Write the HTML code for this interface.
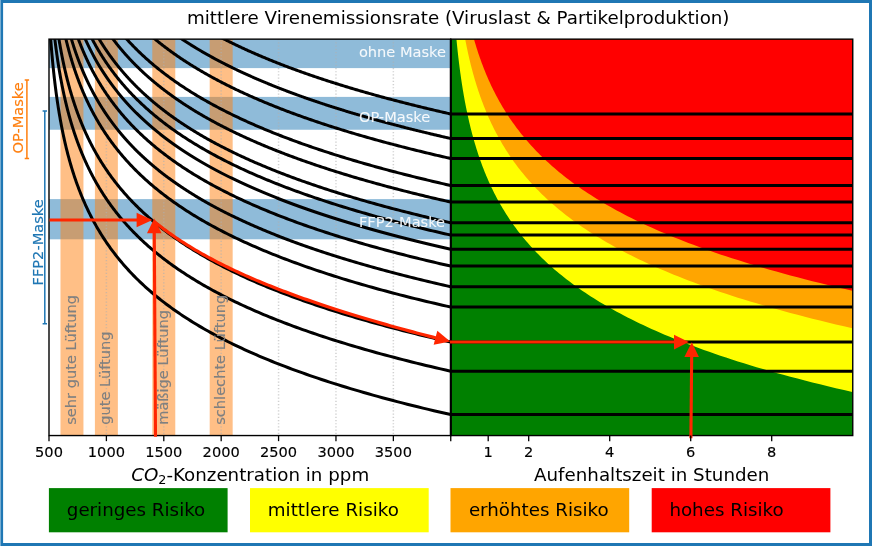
<!DOCTYPE html>
<html lang="de"><head><meta charset="utf-8"><title>Infektionsrisiko</title>
<style>html,body{margin:0;padding:0;background:#fff}svg{display:block}</style></head>
<body>
<svg width="872" height="546" viewBox="0 0 872 546" font-family="'DejaVu Sans', 'Liberation Sans', sans-serif">
<defs>
<clipPath id="cl"><rect x="49.0" y="39.15" width="401.75" height="396.40000000000003"/></clipPath>
<clipPath id="cr"><rect x="450.75" y="39.15" width="402.0" height="396.40000000000003"/></clipPath>
</defs>
<rect x="0" y="0" width="872" height="546" fill="#fff"/>
<g clip-path="url(#cl)">
<rect x="49.0" y="30" width="401.75" height="38.099999999999994" fill="#1f77b4" fill-opacity="0.5"/>
<rect x="49.0" y="96.9" width="401.75" height="32.849999999999994" fill="#1f77b4" fill-opacity="0.5"/>
<rect x="49.0" y="199.1" width="401.75" height="40.20000000000002" fill="#1f77b4" fill-opacity="0.5"/>
<rect x="60.48" y="39.15" width="22.96" height="396.40000000000003" fill="#ff7f0e" fill-opacity="0.5"/>
<rect x="94.91" y="39.15" width="22.96" height="396.40000000000003" fill="#ff7f0e" fill-opacity="0.5"/>
<rect x="152.31" y="39.15" width="22.96" height="396.40000000000003" fill="#ff7f0e" fill-opacity="0.5"/>
<rect x="209.70" y="39.15" width="22.96" height="396.40000000000003" fill="#ff7f0e" fill-opacity="0.5"/>
<line x1="106.39" y1="39.15" x2="106.39" y2="435.55" stroke="#b0b0b0" stroke-opacity="0.6" stroke-width="1.5" stroke-dasharray="1.2 2"/>
<line x1="163.79" y1="39.15" x2="163.79" y2="435.55" stroke="#b0b0b0" stroke-opacity="0.6" stroke-width="1.5" stroke-dasharray="1.2 2"/>
<line x1="221.18" y1="39.15" x2="221.18" y2="435.55" stroke="#b0b0b0" stroke-opacity="0.6" stroke-width="1.5" stroke-dasharray="1.2 2"/>
<line x1="278.57" y1="39.15" x2="278.57" y2="435.55" stroke="#b0b0b0" stroke-opacity="0.6" stroke-width="1.5" stroke-dasharray="1.2 2"/>
<line x1="335.96" y1="39.15" x2="335.96" y2="435.55" stroke="#b0b0b0" stroke-opacity="0.6" stroke-width="1.5" stroke-dasharray="1.2 2"/>
<line x1="393.36" y1="39.15" x2="393.36" y2="435.55" stroke="#b0b0b0" stroke-opacity="0.6" stroke-width="1.5" stroke-dasharray="1.2 2"/>
<path d="M197.07 24.15 L197.57 24.45 L198.07 24.75 L198.57 25.05 L199.08 25.35 L199.58 25.65 L200.09 25.95 L200.60 26.25 L201.11 26.55 L201.63 26.85 L202.14 27.15 L202.66 27.44 L203.17 27.74 L203.69 28.04 L204.22 28.34 L204.74 28.64 L205.26 28.94 L205.79 29.24 L206.32 29.54 L206.85 29.84 L207.38 30.14 L207.91 30.44 L208.45 30.74 L208.98 31.04 L209.52 31.34 L210.06 31.64 L210.60 31.94 L211.15 32.24 L211.69 32.54 L212.24 32.84 L212.79 33.14 L213.34 33.43 L213.89 33.73 L214.45 34.03 L215.01 34.33 L215.56 34.63 L216.12 34.93 L216.68 35.23 L217.25 35.53 L217.81 35.83 L218.38 36.13 L218.95 36.43 L219.52 36.73 L220.09 37.03 L220.67 37.33 L221.25 37.63 L221.82 37.93 L222.40 38.23 L222.99 38.53 L223.57 38.83 L224.16 39.13 L224.75 39.42 L225.33 39.72 L225.93 40.02 L226.52 40.32 L227.12 40.62 L227.71 40.92 L228.31 41.22 L228.91 41.52 L229.52 41.82 L230.12 42.12 L230.73 42.42 L231.34 42.72 L231.95 43.02 L232.57 43.32 L233.18 43.62 L233.80 43.92 L234.42 44.22 L235.04 44.52 L235.66 44.82 L236.29 45.11 L236.92 45.41 L237.55 45.71 L238.18 46.01 L238.81 46.31 L239.45 46.61 L240.08 46.91 L240.72 47.21 L241.37 47.51 L242.01 47.81 L242.66 48.11 L243.30 48.41 L243.96 48.71 L244.61 49.01 L245.26 49.31 L245.92 49.61 L246.58 49.91 L247.24 50.21 L247.90 50.51 L248.57 50.81 L249.24 51.11 L249.91 51.40 L250.58 51.70 L251.25 52.00 L251.93 52.30 L252.61 52.60 L253.29 52.90 L253.97 53.20 L254.66 53.50 L255.34 53.80 L256.03 54.10 L256.72 54.40 L257.42 54.70 L258.11 55.00 L258.81 55.30 L259.51 55.60 L260.22 55.90 L260.92 56.20 L261.63 56.50 L262.34 56.80 L263.05 57.09 L263.77 57.39 L264.49 57.69 L265.21 57.99 L265.93 58.29 L266.65 58.59 L267.38 58.89 L268.11 59.19 L268.84 59.49 L269.57 59.79 L270.31 60.09 L271.05 60.39 L271.79 60.69 L272.53 60.99 L273.28 61.29 L274.02 61.59 L274.78 61.89 L275.53 62.19 L276.28 62.49 L277.04 62.79 L277.80 63.09 L278.56 63.38 L279.33 63.68 L280.10 63.98 L280.87 64.28 L281.64 64.58 L282.42 64.88 L283.19 65.18 L283.98 65.48 L284.76 65.78 L285.54 66.08 L286.33 66.38 L287.12 66.68 L287.92 66.98 L288.71 67.28 L289.51 67.58 L290.31 67.88 L291.12 68.18 L291.92 68.48 L292.73 68.78 L293.54 69.08 L294.36 69.37 L295.17 69.67 L295.99 69.97 L296.81 70.27 L297.64 70.57 L298.47 70.87 L299.30 71.17 L300.13 71.47 L300.97 71.77 L301.80 72.07 L302.65 72.37 L303.49 72.67 L304.34 72.97 L305.19 73.27 L306.04 73.57 L306.89 73.87 L307.75 74.17 L308.61 74.47 L309.47 74.77 L310.34 75.06 L311.21 75.36 L312.08 75.66 L312.96 75.96 L313.83 76.26 L314.71 76.56 L315.60 76.86 L316.48 77.16 L317.37 77.46 L318.27 77.76 L319.16 78.06 L320.06 78.36 L320.96 78.66 L321.86 78.96 L322.77 79.26 L323.68 79.56 L324.59 79.86 L325.51 80.16 L326.42 80.46 L327.35 80.76 L328.27 81.06 L329.20 81.35 L330.13 81.65 L331.06 81.95 L332.00 82.25 L332.94 82.55 L333.88 82.85 L334.83 83.15 L335.78 83.45 L336.73 83.75 L337.68 84.05 L338.64 84.35 L339.60 84.65 L340.57 84.95 L341.53 85.25 L342.50 85.55 L343.48 85.85 L344.46 86.15 L345.44 86.45 L346.42 86.75 L347.41 87.04 L348.40 87.34 L349.39 87.64 L350.39 87.94 L351.38 88.24 L352.39 88.54 L353.39 88.84 L354.40 89.14 L355.42 89.44 L356.43 89.74 L357.45 90.04 L358.47 90.34 L359.50 90.64 L360.53 90.94 L361.56 91.24 L362.60 91.54 L363.64 91.84 L364.68 92.14 L365.73 92.44 L366.78 92.74 L367.83 93.04 L368.89 93.33 L369.94 93.63 L371.01 93.93 L372.08 94.23 L373.15 94.53 L374.22 94.83 L375.30 95.13 L376.38 95.43 L377.46 95.73 L378.55 96.03 L379.64 96.33 L380.74 96.63 L381.83 96.93 L382.94 97.23 L384.04 97.53 L385.15 97.83 L386.26 98.13 L387.38 98.43 L388.50 98.73 L389.63 99.03 L390.75 99.32 L391.88 99.62 L393.02 99.92 L394.16 100.22 L395.30 100.52 L396.45 100.82 L397.60 101.12 L398.75 101.42 L399.91 101.72 L401.07 102.02 L402.23 102.32 L403.40 102.62 L404.57 102.92 L405.75 103.22 L406.93 103.52 L408.11 103.82 L409.30 104.12 L410.49 104.42 L411.69 104.72 L412.89 105.02 L414.09 105.31 L415.30 105.61 L416.51 105.91 L417.73 106.21 L418.94 106.51 L420.17 106.81 L421.39 107.11 L422.63 107.41 L423.86 107.71 L425.10 108.01 L426.34 108.31 L427.59 108.61 L428.84 108.91 L430.10 109.21 L431.36 109.51 L432.62 109.81 L433.89 110.11 L435.16 110.41 L436.44 110.71 L437.72 111.00 L439.00 111.30 L440.29 111.60 L441.58 111.90 L442.88 112.20 L444.18 112.50 L445.49 112.80 L446.80 113.10 L448.11 113.40 L449.43 113.70 L450.75 114.00" fill="none" stroke="#000" stroke-width="3.0"/>
<path d="M161.24 24.15 L161.73 24.53 L162.22 24.91 L162.71 25.29 L163.21 25.67 L163.70 26.06 L164.20 26.44 L164.70 26.82 L165.20 27.20 L165.71 27.58 L166.21 27.96 L166.72 28.34 L167.23 28.72 L167.74 29.11 L168.26 29.49 L168.77 29.87 L169.29 30.25 L169.81 30.63 L170.34 31.01 L170.86 31.39 L171.39 31.77 L171.92 32.15 L172.45 32.54 L172.98 32.92 L173.52 33.30 L174.06 33.68 L174.60 34.06 L175.14 34.44 L175.69 34.82 L176.23 35.20 L176.78 35.59 L177.34 35.97 L177.89 36.35 L178.45 36.73 L179.01 37.11 L179.57 37.49 L180.13 37.87 L180.70 38.25 L181.26 38.63 L181.83 39.02 L182.41 39.40 L182.98 39.78 L183.56 40.16 L184.14 40.54 L184.72 40.92 L185.31 41.30 L185.90 41.68 L186.49 42.06 L187.08 42.45 L187.67 42.83 L188.27 43.21 L188.87 43.59 L189.47 43.97 L190.08 44.35 L190.68 44.73 L191.29 45.11 L191.90 45.50 L192.52 45.88 L193.14 46.26 L193.76 46.64 L194.38 47.02 L195.00 47.40 L195.63 47.78 L196.26 48.16 L196.89 48.54 L197.53 48.93 L198.17 49.31 L198.81 49.69 L199.45 50.07 L200.10 50.45 L200.75 50.83 L201.40 51.21 L202.05 51.59 L202.71 51.98 L203.37 52.36 L204.03 52.74 L204.70 53.12 L205.36 53.50 L206.04 53.88 L206.71 54.26 L207.38 54.64 L208.06 55.02 L208.75 55.41 L209.43 55.79 L210.12 56.17 L210.81 56.55 L211.50 56.93 L212.20 57.31 L212.90 57.69 L213.60 58.07 L214.30 58.46 L215.01 58.84 L215.72 59.22 L216.44 59.60 L217.15 59.98 L217.87 60.36 L218.59 60.74 L219.32 61.12 L220.05 61.50 L220.78 61.89 L221.51 62.27 L222.25 62.65 L222.99 63.03 L223.74 63.41 L224.48 63.79 L225.23 64.17 L225.99 64.55 L226.74 64.93 L227.50 65.32 L228.26 65.70 L229.03 66.08 L229.80 66.46 L230.57 66.84 L231.35 67.22 L232.13 67.60 L232.91 67.98 L233.69 68.37 L234.48 68.75 L235.27 69.13 L236.07 69.51 L236.86 69.89 L237.67 70.27 L238.47 70.65 L239.28 71.03 L240.09 71.41 L240.90 71.80 L241.72 72.18 L242.54 72.56 L243.37 72.94 L244.20 73.32 L245.03 73.70 L245.87 74.08 L246.70 74.46 L247.55 74.85 L248.39 75.23 L249.24 75.61 L250.09 75.99 L250.95 76.37 L251.81 76.75 L252.67 77.13 L253.54 77.51 L254.41 77.89 L255.29 78.28 L256.16 78.66 L257.04 79.04 L257.93 79.42 L258.82 79.80 L259.71 80.18 L260.61 80.56 L261.51 80.94 L262.41 81.32 L263.32 81.71 L264.23 82.09 L265.15 82.47 L266.06 82.85 L266.99 83.23 L267.91 83.61 L268.84 83.99 L269.78 84.37 L270.72 84.76 L271.66 85.14 L272.60 85.52 L273.55 85.90 L274.51 86.28 L275.46 86.66 L276.43 87.04 L277.39 87.42 L278.36 87.80 L279.34 88.19 L280.31 88.57 L281.29 88.95 L282.28 89.33 L283.27 89.71 L284.26 90.09 L285.26 90.47 L286.27 90.85 L287.27 91.24 L288.28 91.62 L289.30 92.00 L290.32 92.38 L291.34 92.76 L292.37 93.14 L293.40 93.52 L294.44 93.90 L295.48 94.28 L296.52 94.67 L297.57 95.05 L298.62 95.43 L299.68 95.81 L300.74 96.19 L301.81 96.57 L302.88 96.95 L303.96 97.33 L305.04 97.72 L306.12 98.10 L307.21 98.48 L308.30 98.86 L309.40 99.24 L310.50 99.62 L311.61 100.00 L312.72 100.38 L313.84 100.76 L314.96 101.15 L316.09 101.53 L317.22 101.91 L318.35 102.29 L319.49 102.67 L320.63 103.05 L321.78 103.43 L322.94 103.81 L324.10 104.20 L325.26 104.58 L326.43 104.96 L327.60 105.34 L328.78 105.72 L329.96 106.10 L331.15 106.48 L332.34 106.86 L333.54 107.24 L334.74 107.63 L335.95 108.01 L337.16 108.39 L338.38 108.77 L339.61 109.15 L340.83 109.53 L342.07 109.91 L343.30 110.29 L344.55 110.67 L345.80 111.06 L347.05 111.44 L348.31 111.82 L349.57 112.20 L350.84 112.58 L352.12 112.96 L353.40 113.34 L354.68 113.72 L355.97 114.11 L357.27 114.49 L358.57 114.87 L359.88 115.25 L361.19 115.63 L362.51 116.01 L363.83 116.39 L365.16 116.77 L366.49 117.15 L367.83 117.54 L369.18 117.92 L370.53 118.30 L371.88 118.68 L373.25 119.06 L374.61 119.44 L375.99 119.82 L377.37 120.20 L378.75 120.59 L380.14 120.97 L381.54 121.35 L382.94 121.73 L384.35 122.11 L385.76 122.49 L387.18 122.87 L388.61 123.25 L390.04 123.63 L391.47 124.02 L392.92 124.40 L394.37 124.78 L395.82 125.16 L397.28 125.54 L398.75 125.92 L400.22 126.30 L401.70 126.68 L403.19 127.07 L404.68 127.45 L406.18 127.83 L407.68 128.21 L409.20 128.59 L410.71 128.97 L412.24 129.35 L413.76 129.73 L415.30 130.11 L416.84 130.50 L418.39 130.88 L419.95 131.26 L421.51 131.64 L423.08 132.02 L424.65 132.40 L426.23 132.78 L427.82 133.16 L429.41 133.54 L431.01 133.93 L432.62 134.31 L434.24 134.69 L435.86 135.07 L437.48 135.45 L439.12 135.83 L440.76 136.21 L442.41 136.59 L444.06 136.98 L445.72 137.36 L447.39 137.74 L449.07 138.12 L450.75 138.50" fill="none" stroke="#000" stroke-width="3.0"/>
<path d="M138.30 24.15 L138.77 24.60 L139.23 25.05 L139.69 25.49 L140.16 25.94 L140.63 26.39 L141.10 26.84 L141.58 27.28 L142.06 27.73 L142.54 28.18 L143.02 28.63 L143.50 29.08 L143.99 29.52 L144.48 29.97 L144.97 30.42 L145.46 30.87 L145.96 31.32 L146.45 31.76 L146.96 32.21 L147.46 32.66 L147.96 33.11 L148.47 33.55 L148.98 34.00 L149.50 34.45 L150.01 34.90 L150.53 35.35 L151.05 35.79 L151.57 36.24 L152.10 36.69 L152.63 37.14 L153.16 37.58 L153.69 38.03 L154.23 38.48 L154.77 38.93 L155.31 39.38 L155.85 39.82 L156.40 40.27 L156.95 40.72 L157.50 41.17 L158.05 41.62 L158.61 42.06 L159.17 42.51 L159.73 42.96 L160.30 43.41 L160.87 43.85 L161.44 44.30 L162.01 44.75 L162.59 45.20 L163.17 45.65 L163.75 46.09 L164.34 46.54 L164.92 46.99 L165.52 47.44 L166.11 47.89 L166.71 48.33 L167.31 48.78 L167.91 49.23 L168.51 49.68 L169.12 50.12 L169.73 50.57 L170.35 51.02 L170.96 51.47 L171.59 51.92 L172.21 52.36 L172.84 52.81 L173.46 53.26 L174.10 53.71 L174.73 54.15 L175.37 54.60 L176.01 55.05 L176.66 55.50 L177.31 55.95 L177.96 56.39 L178.61 56.84 L179.27 57.29 L179.93 57.74 L180.59 58.19 L181.26 58.63 L181.93 59.08 L182.61 59.53 L183.28 59.98 L183.96 60.42 L184.65 60.87 L185.34 61.32 L186.03 61.77 L186.72 62.22 L187.42 62.66 L188.12 63.11 L188.82 63.56 L189.53 64.01 L190.24 64.45 L190.95 64.90 L191.67 65.35 L192.39 65.80 L193.12 66.25 L193.85 66.69 L194.58 67.14 L195.31 67.59 L196.05 68.04 L196.80 68.49 L197.54 68.93 L198.29 69.38 L199.05 69.83 L199.80 70.28 L200.56 70.72 L201.33 71.17 L202.10 71.62 L202.87 72.07 L203.65 72.52 L204.43 72.96 L205.21 73.41 L206.00 73.86 L206.79 74.31 L207.58 74.76 L208.38 75.20 L209.19 75.65 L209.99 76.10 L210.80 76.55 L211.62 76.99 L212.44 77.44 L213.26 77.89 L214.09 78.34 L214.92 78.79 L215.75 79.23 L216.59 79.68 L217.43 80.13 L218.28 80.58 L219.13 81.02 L219.99 81.47 L220.85 81.92 L221.71 82.37 L222.58 82.82 L223.45 83.26 L224.33 83.71 L225.21 84.16 L226.09 84.61 L226.98 85.06 L227.88 85.50 L228.77 85.95 L229.68 86.40 L230.58 86.85 L231.49 87.29 L232.41 87.74 L233.33 88.19 L234.26 88.64 L235.18 89.09 L236.12 89.53 L237.06 89.98 L238.00 90.43 L238.95 90.88 L239.90 91.32 L240.86 91.77 L241.82 92.22 L242.78 92.67 L243.75 93.12 L244.73 93.56 L245.71 94.01 L246.69 94.46 L247.68 94.91 L248.68 95.36 L249.68 95.80 L250.68 96.25 L251.69 96.70 L252.71 97.15 L253.73 97.59 L254.75 98.04 L255.78 98.49 L256.81 98.94 L257.85 99.39 L258.90 99.83 L259.95 100.28 L261.00 100.73 L262.06 101.18 L263.13 101.63 L264.20 102.07 L265.27 102.52 L266.35 102.97 L267.44 103.42 L268.53 103.86 L269.63 104.31 L270.73 104.76 L271.83 105.21 L272.95 105.66 L274.06 106.10 L275.19 106.55 L276.32 107.00 L277.45 107.45 L278.59 107.89 L279.74 108.34 L280.89 108.79 L282.04 109.24 L283.21 109.69 L284.37 110.13 L285.55 110.58 L286.73 111.03 L287.91 111.48 L289.10 111.93 L290.30 112.37 L291.50 112.82 L292.71 113.27 L293.93 113.72 L295.15 114.16 L296.37 114.61 L297.61 115.06 L298.84 115.51 L300.09 115.96 L301.34 116.40 L302.60 116.85 L303.86 117.30 L305.13 117.75 L306.40 118.19 L307.68 118.64 L308.97 119.09 L310.26 119.54 L311.56 119.99 L312.87 120.43 L314.18 120.88 L315.50 121.33 L316.83 121.78 L318.16 122.23 L319.50 122.67 L320.84 123.12 L322.20 123.57 L323.55 124.02 L324.92 124.46 L326.29 124.91 L327.67 125.36 L329.05 125.81 L330.45 126.26 L331.84 126.70 L333.25 127.15 L334.66 127.60 L336.08 128.05 L337.51 128.50 L338.94 128.94 L340.38 129.39 L341.83 129.84 L343.28 130.29 L344.74 130.73 L346.21 131.18 L347.69 131.63 L349.17 132.08 L350.66 132.53 L352.16 132.97 L353.66 133.42 L355.17 133.87 L356.69 134.32 L358.22 134.76 L359.75 135.21 L361.29 135.66 L362.84 136.11 L364.40 136.56 L365.96 137.00 L367.54 137.45 L369.12 137.90 L370.70 138.35 L372.30 138.80 L373.90 139.24 L375.51 139.69 L377.13 140.14 L378.76 140.59 L380.39 141.03 L382.03 141.48 L383.68 141.93 L385.34 142.38 L387.01 142.83 L388.68 143.27 L390.36 143.72 L392.06 144.17 L393.75 144.62 L395.46 145.06 L397.18 145.51 L398.90 145.96 L400.63 146.41 L402.38 146.86 L404.13 147.30 L405.88 147.75 L407.65 148.20 L409.43 148.65 L411.21 149.10 L413.00 149.54 L414.80 149.99 L416.61 150.44 L418.43 150.89 L420.26 151.33 L422.10 151.78 L423.94 152.23 L425.80 152.68 L427.66 153.13 L429.53 153.57 L431.42 154.02 L433.31 154.47 L435.21 154.92 L437.12 155.37 L439.04 155.81 L440.97 156.26 L442.90 156.71 L444.85 157.16 L446.81 157.60 L448.77 158.05 L450.75 158.50" fill="none" stroke="#000" stroke-width="3.0"/>
<path d="M114.28 24.15 L114.69 24.69 L115.11 25.23 L115.52 25.76 L115.94 26.30 L116.37 26.84 L116.79 27.38 L117.22 27.91 L117.65 28.45 L118.08 28.99 L118.52 29.53 L118.96 30.07 L119.40 30.60 L119.84 31.14 L120.29 31.68 L120.73 32.22 L121.18 32.76 L121.64 33.29 L122.09 33.83 L122.55 34.37 L123.01 34.91 L123.48 35.44 L123.95 35.98 L124.42 36.52 L124.89 37.06 L125.36 37.60 L125.84 38.13 L126.32 38.67 L126.81 39.21 L127.29 39.75 L127.78 40.28 L128.27 40.82 L128.77 41.36 L129.27 41.90 L129.77 42.44 L130.27 42.97 L130.78 43.51 L131.29 44.05 L131.80 44.59 L132.32 45.13 L132.84 45.66 L133.36 46.20 L133.88 46.74 L134.41 47.28 L134.94 47.81 L135.47 48.35 L136.01 48.89 L136.55 49.43 L137.10 49.97 L137.64 50.50 L138.19 51.04 L138.75 51.58 L139.30 52.12 L139.86 52.66 L140.43 53.19 L140.99 53.73 L141.56 54.27 L142.13 54.81 L142.71 55.34 L143.29 55.88 L143.87 56.42 L144.46 56.96 L145.05 57.50 L145.64 58.03 L146.24 58.57 L146.84 59.11 L147.45 59.65 L148.05 60.18 L148.66 60.72 L149.28 61.26 L149.90 61.80 L150.52 62.34 L151.14 62.87 L151.77 63.41 L152.41 63.95 L153.04 64.49 L153.68 65.03 L154.33 65.56 L154.97 66.10 L155.63 66.64 L156.28 67.18 L156.94 67.71 L157.60 68.25 L158.27 68.79 L158.94 69.33 L159.62 69.87 L160.30 70.40 L160.98 70.94 L161.67 71.48 L162.36 72.02 L163.05 72.55 L163.75 73.09 L164.45 73.63 L165.16 74.17 L165.87 74.71 L166.59 75.24 L167.31 75.78 L168.03 76.32 L168.76 76.86 L169.49 77.40 L170.23 77.93 L170.97 78.47 L171.71 79.01 L172.46 79.55 L173.22 80.08 L173.98 80.62 L174.74 81.16 L175.51 81.70 L176.28 82.24 L177.06 82.77 L177.84 83.31 L178.62 83.85 L179.41 84.39 L180.21 84.93 L181.01 85.46 L181.81 86.00 L182.62 86.54 L183.44 87.08 L184.25 87.61 L185.08 88.15 L185.91 88.69 L186.74 89.23 L187.58 89.77 L188.42 90.30 L189.27 90.84 L190.12 91.38 L190.98 91.92 L191.84 92.45 L192.71 92.99 L193.58 93.53 L194.46 94.07 L195.34 94.61 L196.23 95.14 L197.12 95.68 L198.02 96.22 L198.93 96.76 L199.84 97.30 L200.75 97.83 L201.67 98.37 L202.60 98.91 L203.53 99.45 L204.46 99.98 L205.40 100.52 L206.35 101.06 L207.30 101.60 L208.26 102.14 L209.23 102.67 L210.20 103.21 L211.17 103.75 L212.15 104.29 L213.14 104.82 L214.13 105.36 L215.13 105.90 L216.14 106.44 L217.15 106.98 L218.16 107.51 L219.18 108.05 L220.21 108.59 L221.25 109.13 L222.29 109.67 L223.33 110.20 L224.38 110.74 L225.44 111.28 L226.51 111.82 L227.58 112.35 L228.66 112.89 L229.74 113.43 L230.83 113.97 L231.93 114.51 L233.03 115.04 L234.14 115.58 L235.25 116.12 L236.38 116.66 L237.51 117.20 L238.64 117.73 L239.78 118.27 L240.93 118.81 L242.09 119.35 L243.25 119.88 L244.42 120.42 L245.60 120.96 L246.78 121.50 L247.97 122.04 L249.17 122.57 L250.37 123.11 L251.58 123.65 L252.80 124.19 L254.02 124.72 L255.26 125.26 L256.50 125.80 L257.74 126.34 L259.00 126.88 L260.26 127.41 L261.53 127.95 L262.80 128.49 L264.09 129.03 L265.38 129.57 L266.68 130.10 L267.98 130.64 L269.30 131.18 L270.62 131.72 L271.95 132.25 L273.29 132.79 L274.63 133.33 L275.99 133.87 L277.35 134.41 L278.72 134.94 L280.09 135.48 L281.48 136.02 L282.87 136.56 L284.27 137.09 L285.68 137.63 L287.10 138.17 L288.53 138.71 L289.96 139.25 L291.40 139.78 L292.86 140.32 L294.32 140.86 L295.78 141.40 L297.26 141.94 L298.75 142.47 L300.24 143.01 L301.75 143.55 L303.26 144.09 L304.78 144.62 L306.31 145.16 L307.85 145.70 L309.40 146.24 L310.95 146.78 L312.52 147.31 L314.09 147.85 L315.68 148.39 L317.27 148.93 L318.88 149.47 L320.49 150.00 L322.11 150.54 L323.74 151.08 L325.38 151.62 L327.03 152.15 L328.69 152.69 L330.36 153.23 L332.04 153.77 L333.73 154.31 L335.43 154.84 L337.14 155.38 L338.86 155.92 L340.59 156.46 L342.33 156.99 L344.08 157.53 L345.84 158.07 L347.61 158.61 L349.40 159.15 L351.19 159.68 L352.99 160.22 L354.80 160.76 L356.63 161.30 L358.46 161.84 L360.30 162.37 L362.16 162.91 L364.03 163.45 L365.90 163.99 L367.79 164.52 L369.69 165.06 L371.60 165.60 L373.52 166.14 L375.46 166.68 L377.40 167.21 L379.36 167.75 L381.32 168.29 L383.30 168.83 L385.29 169.37 L387.29 169.90 L389.31 170.44 L391.33 170.98 L393.37 171.52 L395.42 172.05 L397.48 172.59 L399.56 173.13 L401.64 173.67 L403.74 174.21 L405.85 174.74 L407.97 175.28 L410.11 175.82 L412.25 176.36 L414.41 176.89 L416.59 177.43 L418.77 177.97 L420.97 178.51 L423.18 179.05 L425.41 179.58 L427.64 180.12 L429.89 180.66 L432.16 181.20 L434.43 181.74 L436.72 182.27 L439.03 182.81 L441.35 183.35 L443.68 183.89 L446.02 184.42 L448.38 184.96 L450.75 185.50" fill="none" stroke="#000" stroke-width="3.0"/>
<path d="M102.65 24.15 L103.03 24.74 L103.41 25.34 L103.80 25.93 L104.18 26.52 L104.57 27.12 L104.97 27.71 L105.36 28.30 L105.76 28.90 L106.16 29.49 L106.56 30.08 L106.97 30.67 L107.38 31.27 L107.79 31.86 L108.20 32.45 L108.62 33.05 L109.04 33.64 L109.46 34.23 L109.89 34.83 L110.31 35.42 L110.74 36.01 L111.18 36.61 L111.61 37.20 L112.05 37.79 L112.49 38.39 L112.93 38.98 L113.38 39.57 L113.83 40.17 L114.28 40.76 L114.74 41.35 L115.20 41.94 L115.66 42.54 L116.12 43.13 L116.59 43.72 L117.06 44.32 L117.54 44.91 L118.01 45.50 L118.49 46.10 L118.98 46.69 L119.46 47.28 L119.95 47.88 L120.44 48.47 L120.94 49.06 L121.44 49.66 L121.94 50.25 L122.44 50.84 L122.95 51.44 L123.47 52.03 L123.98 52.62 L124.50 53.22 L125.02 53.81 L125.55 54.40 L126.07 54.99 L126.61 55.59 L127.14 56.18 L127.68 56.77 L128.22 57.37 L128.77 57.96 L129.32 58.55 L129.87 59.15 L130.43 59.74 L130.99 60.33 L131.55 60.93 L132.12 61.52 L132.69 62.11 L133.26 62.71 L133.84 63.30 L134.42 63.89 L135.01 64.49 L135.60 65.08 L136.19 65.67 L136.79 66.26 L137.39 66.86 L138.00 67.45 L138.61 68.04 L139.22 68.64 L139.84 69.23 L140.46 69.82 L141.08 70.42 L141.71 71.01 L142.35 71.60 L142.98 72.20 L143.62 72.79 L144.27 73.38 L144.92 73.98 L145.57 74.57 L146.23 75.16 L146.89 75.76 L147.56 76.35 L148.23 76.94 L148.91 77.53 L149.59 78.13 L150.27 78.72 L150.96 79.31 L151.65 79.91 L152.35 80.50 L153.05 81.09 L153.76 81.69 L154.47 82.28 L155.18 82.87 L155.90 83.47 L156.63 84.06 L157.36 84.65 L158.09 85.25 L158.83 85.84 L159.58 86.43 L160.32 87.03 L161.08 87.62 L161.84 88.21 L162.60 88.81 L163.37 89.40 L164.14 89.99 L164.92 90.58 L165.70 91.18 L166.49 91.77 L167.28 92.36 L168.08 92.96 L168.89 93.55 L169.69 94.14 L170.51 94.74 L171.33 95.33 L172.15 95.92 L172.98 96.52 L173.82 97.11 L174.66 97.70 L175.50 98.30 L176.36 98.89 L177.21 99.48 L178.08 100.08 L178.94 100.67 L179.82 101.26 L180.70 101.85 L181.58 102.45 L182.47 103.04 L183.37 103.63 L184.27 104.23 L185.18 104.82 L186.10 105.41 L187.02 106.01 L187.94 106.60 L188.87 107.19 L189.81 107.79 L190.76 108.38 L191.71 108.97 L192.66 109.57 L193.63 110.16 L194.60 110.75 L195.57 111.35 L196.55 111.94 L197.54 112.53 L198.53 113.13 L199.53 113.72 L200.54 114.31 L201.56 114.90 L202.58 115.50 L203.60 116.09 L204.64 116.68 L205.68 117.28 L206.72 117.87 L207.78 118.46 L208.84 119.06 L209.90 119.65 L210.98 120.24 L212.06 120.84 L213.15 121.43 L214.24 122.02 L215.35 122.62 L216.45 123.21 L217.57 123.80 L218.69 124.40 L219.83 124.99 L220.96 125.58 L222.11 126.17 L223.26 126.77 L224.42 127.36 L225.59 127.95 L226.77 128.55 L227.95 129.14 L229.14 129.73 L230.34 130.33 L231.55 130.92 L232.76 131.51 L233.98 132.11 L235.21 132.70 L236.45 133.29 L237.70 133.89 L238.95 134.48 L240.21 135.07 L241.48 135.67 L242.76 136.26 L244.05 136.85 L245.34 137.44 L246.65 138.04 L247.96 138.63 L249.28 139.22 L250.61 139.82 L251.95 140.41 L253.29 141.00 L254.65 141.60 L256.01 142.19 L257.38 142.78 L258.76 143.38 L260.15 143.97 L261.55 144.56 L262.96 145.16 L264.38 145.75 L265.80 146.34 L267.24 146.94 L268.69 147.53 L270.14 148.12 L271.60 148.71 L273.08 149.31 L274.56 149.90 L276.05 150.49 L277.55 151.09 L279.07 151.68 L280.59 152.27 L282.12 152.87 L283.66 153.46 L285.21 154.05 L286.77 154.65 L288.34 155.24 L289.93 155.83 L291.52 156.43 L293.12 157.02 L294.73 157.61 L296.36 158.21 L297.99 158.80 L299.63 159.39 L301.29 159.99 L302.95 160.58 L304.63 161.17 L306.32 161.76 L308.01 162.36 L309.72 162.95 L311.44 163.54 L313.17 164.14 L314.91 164.73 L316.67 165.32 L318.43 165.92 L320.21 166.51 L322.00 167.10 L323.80 167.70 L325.61 168.29 L327.43 168.88 L329.26 169.48 L331.11 170.07 L332.97 170.66 L334.84 171.26 L336.72 171.85 L338.62 172.44 L340.52 173.03 L342.44 173.63 L344.37 174.22 L346.32 174.81 L348.27 175.41 L350.24 176.00 L352.22 176.59 L354.22 177.19 L356.23 177.78 L358.25 178.37 L360.28 178.97 L362.33 179.56 L364.39 180.15 L366.46 180.75 L368.55 181.34 L370.65 181.93 L372.76 182.53 L374.89 183.12 L377.03 183.71 L379.19 184.31 L381.36 184.90 L383.54 185.49 L385.74 186.08 L387.95 186.68 L390.17 187.27 L392.41 187.86 L394.67 188.46 L396.94 189.05 L399.22 189.64 L401.52 190.24 L403.83 190.83 L406.16 191.42 L408.51 192.02 L410.87 192.61 L413.24 193.20 L415.63 193.80 L418.03 194.39 L420.45 194.98 L422.89 195.58 L425.34 196.17 L427.81 196.76 L430.29 197.35 L432.79 197.95 L435.31 198.54 L437.84 199.13 L440.39 199.73 L442.95 200.32 L445.54 200.91 L448.13 201.51 L450.75 202.10" fill="none" stroke="#000" stroke-width="3.0"/>
<path d="M90.82 24.15 L91.16 24.81 L91.50 25.47 L91.85 26.14 L92.20 26.80 L92.54 27.46 L92.90 28.12 L93.25 28.78 L93.61 29.45 L93.97 30.11 L94.33 30.77 L94.69 31.43 L95.06 32.09 L95.43 32.76 L95.80 33.42 L96.18 34.08 L96.56 34.74 L96.94 35.40 L97.32 36.07 L97.71 36.73 L98.10 37.39 L98.49 38.05 L98.88 38.71 L99.28 39.38 L99.68 40.04 L100.08 40.70 L100.49 41.36 L100.90 42.02 L101.31 42.69 L101.73 43.35 L102.14 44.01 L102.57 44.67 L102.99 45.33 L103.42 46.00 L103.85 46.66 L104.28 47.32 L104.72 47.98 L105.16 48.64 L105.60 49.31 L106.05 49.97 L106.50 50.63 L106.95 51.29 L107.40 51.95 L107.86 52.62 L108.33 53.28 L108.79 53.94 L109.26 54.60 L109.73 55.26 L110.21 55.93 L110.69 56.59 L111.17 57.25 L111.66 57.91 L112.15 58.57 L112.64 59.24 L113.14 59.90 L113.64 60.56 L114.14 61.22 L114.65 61.88 L115.16 62.55 L115.68 63.21 L116.19 63.87 L116.72 64.53 L117.24 65.19 L117.77 65.86 L118.31 66.52 L118.85 67.18 L119.39 67.84 L119.93 68.50 L120.48 69.17 L121.04 69.83 L121.59 70.49 L122.15 71.15 L122.72 71.81 L123.29 72.48 L123.86 73.14 L124.44 73.80 L125.02 74.46 L125.61 75.12 L126.20 75.79 L126.80 76.45 L127.39 77.11 L128.00 77.77 L128.61 78.43 L129.22 79.10 L129.83 79.76 L130.46 80.42 L131.08 81.08 L131.71 81.74 L132.35 82.41 L132.98 83.07 L133.63 83.73 L134.28 84.39 L134.93 85.05 L135.59 85.72 L136.25 86.38 L136.92 87.04 L137.59 87.70 L138.27 88.36 L138.95 89.03 L139.64 89.69 L140.33 90.35 L141.02 91.01 L141.73 91.67 L142.43 92.34 L143.15 93.00 L143.86 93.66 L144.59 94.32 L145.31 94.98 L146.05 95.65 L146.78 96.31 L147.53 96.97 L148.28 97.63 L149.03 98.29 L149.79 98.96 L150.56 99.62 L151.33 100.28 L152.10 100.94 L152.88 101.60 L153.67 102.27 L154.46 102.93 L155.26 103.59 L156.07 104.25 L156.88 104.91 L157.70 105.58 L158.52 106.24 L159.35 106.90 L160.18 107.56 L161.02 108.22 L161.87 108.89 L162.72 109.55 L163.58 110.21 L164.44 110.87 L165.31 111.53 L166.19 112.20 L167.07 112.86 L167.96 113.52 L168.86 114.18 L169.76 114.84 L170.67 115.51 L171.59 116.17 L172.51 116.83 L173.44 117.49 L174.38 118.15 L175.32 118.82 L176.27 119.48 L177.22 120.14 L178.19 120.80 L179.16 121.46 L180.14 122.13 L181.12 122.79 L182.11 123.45 L183.11 124.11 L184.12 124.77 L185.13 125.44 L186.15 126.10 L187.18 126.76 L188.21 127.42 L189.25 128.08 L190.30 128.75 L191.36 129.41 L192.43 130.07 L193.50 130.73 L194.58 131.39 L195.67 132.06 L196.77 132.72 L197.87 133.38 L198.98 134.04 L200.10 134.70 L201.23 135.37 L202.37 136.03 L203.51 136.69 L204.67 137.35 L205.83 138.01 L207.00 138.68 L208.18 139.34 L209.36 140.00 L210.56 140.66 L211.76 141.32 L212.98 141.99 L214.20 142.65 L215.43 143.31 L216.67 143.97 L217.92 144.63 L219.17 145.30 L220.44 145.96 L221.71 146.62 L223.00 147.28 L224.29 147.94 L225.60 148.61 L226.91 149.27 L228.23 149.93 L229.56 150.59 L230.90 151.25 L232.25 151.92 L233.61 152.58 L234.99 153.24 L236.37 153.90 L237.76 154.56 L239.16 155.23 L240.57 155.89 L241.99 156.55 L243.42 157.21 L244.86 157.87 L246.31 158.54 L247.77 159.20 L249.25 159.86 L250.73 160.52 L252.22 161.18 L253.73 161.85 L255.24 162.51 L256.77 163.17 L258.31 163.83 L259.86 164.49 L261.42 165.16 L262.99 165.82 L264.57 166.48 L266.17 167.14 L267.77 167.80 L269.39 168.47 L271.02 169.13 L272.66 169.79 L274.31 170.45 L275.98 171.11 L277.65 171.78 L279.34 172.44 L281.04 173.10 L282.75 173.76 L284.48 174.42 L286.22 175.09 L287.97 175.75 L289.73 176.41 L291.51 177.07 L293.30 177.73 L295.10 178.40 L296.91 179.06 L298.74 179.72 L300.58 180.38 L302.43 181.04 L304.30 181.71 L306.18 182.37 L308.08 183.03 L309.99 183.69 L311.91 184.35 L313.84 185.02 L315.79 185.68 L317.76 186.34 L319.74 187.00 L321.73 187.66 L323.73 188.33 L325.76 188.99 L327.79 189.65 L329.84 190.31 L331.91 190.97 L333.99 191.64 L336.08 192.30 L338.19 192.96 L340.32 193.62 L342.46 194.28 L344.62 194.95 L346.79 195.61 L348.98 196.27 L351.18 196.93 L353.40 197.59 L355.64 198.26 L357.89 198.92 L360.16 199.58 L362.44 200.24 L364.74 200.90 L367.06 201.57 L369.39 202.23 L371.74 202.89 L374.11 203.55 L376.50 204.21 L378.90 204.88 L381.32 205.54 L383.76 206.20 L386.21 206.86 L388.68 207.52 L391.17 208.19 L393.68 208.85 L396.21 209.51 L398.75 210.17 L401.32 210.83 L403.90 211.50 L406.50 212.16 L409.12 212.82 L411.75 213.48 L414.41 214.14 L417.09 214.81 L419.78 215.47 L422.50 216.13 L425.23 216.79 L427.99 217.45 L430.76 218.12 L433.56 218.78 L436.37 219.44 L439.20 220.10 L442.06 220.76 L444.94 221.43 L447.83 222.09 L450.75 222.75" fill="none" stroke="#000" stroke-width="3.0"/>
<path d="M84.92 24.15 L85.24 24.85 L85.55 25.56 L85.87 26.26 L86.20 26.96 L86.52 27.67 L86.85 28.37 L87.18 29.07 L87.51 29.78 L87.85 30.48 L88.18 31.18 L88.52 31.88 L88.87 32.59 L89.21 33.29 L89.56 33.99 L89.91 34.70 L90.27 35.40 L90.62 36.10 L90.98 36.81 L91.34 37.51 L91.71 38.21 L92.07 38.92 L92.44 39.62 L92.82 40.32 L93.19 41.03 L93.57 41.73 L93.95 42.43 L94.34 43.14 L94.73 43.84 L95.12 44.54 L95.51 45.25 L95.91 45.95 L96.31 46.65 L96.71 47.35 L97.11 48.06 L97.52 48.76 L97.93 49.46 L98.35 50.17 L98.77 50.87 L99.19 51.57 L99.61 52.28 L100.04 52.98 L100.47 53.68 L100.91 54.39 L101.35 55.09 L101.79 55.79 L102.23 56.50 L102.68 57.20 L103.13 57.90 L103.59 58.61 L104.04 59.31 L104.51 60.01 L104.97 60.71 L105.44 61.42 L105.91 62.12 L106.39 62.82 L106.87 63.53 L107.35 64.23 L107.84 64.93 L108.33 65.64 L108.83 66.34 L109.32 67.04 L109.83 67.75 L110.33 68.45 L110.84 69.15 L111.36 69.86 L111.88 70.56 L112.40 71.26 L112.92 71.97 L113.45 72.67 L113.99 73.37 L114.53 74.07 L115.07 74.78 L115.62 75.48 L116.17 76.18 L116.72 76.89 L117.28 77.59 L117.84 78.29 L118.41 79.00 L118.98 79.70 L119.56 80.40 L120.14 81.11 L120.73 81.81 L121.32 82.51 L121.91 83.22 L122.51 83.92 L123.11 84.62 L123.72 85.33 L124.34 86.03 L124.95 86.73 L125.58 87.44 L126.20 88.14 L126.83 88.84 L127.47 89.54 L128.11 90.25 L128.76 90.95 L129.41 91.65 L130.07 92.36 L130.73 93.06 L131.40 93.76 L132.07 94.47 L132.74 95.17 L133.43 95.87 L134.11 96.58 L134.81 97.28 L135.50 97.98 L136.21 98.69 L136.92 99.39 L137.63 100.09 L138.35 100.80 L139.08 101.50 L139.81 102.20 L140.54 102.90 L141.28 103.61 L142.03 104.31 L142.79 105.01 L143.55 105.72 L144.31 106.42 L145.08 107.12 L145.86 107.83 L146.64 108.53 L147.43 109.23 L148.22 109.94 L149.03 110.64 L149.83 111.34 L150.65 112.05 L151.47 112.75 L152.29 113.45 L153.12 114.16 L153.96 114.86 L154.81 115.56 L155.66 116.26 L156.52 116.97 L157.38 117.67 L158.25 118.37 L159.13 119.08 L160.01 119.78 L160.91 120.48 L161.80 121.19 L162.71 121.89 L163.62 122.59 L164.54 123.30 L165.47 124.00 L166.40 124.70 L167.34 125.41 L168.29 126.11 L169.24 126.81 L170.20 127.52 L171.17 128.22 L172.15 128.92 L173.13 129.62 L174.13 130.33 L175.13 131.03 L176.13 131.73 L177.15 132.44 L178.17 133.14 L179.20 133.84 L180.24 134.55 L181.29 135.25 L182.34 135.95 L183.41 136.66 L184.48 137.36 L185.55 138.06 L186.64 138.77 L187.74 139.47 L188.84 140.17 L189.95 140.88 L191.08 141.58 L192.21 142.28 L193.34 142.99 L194.49 143.69 L195.65 144.39 L196.81 145.09 L197.99 145.80 L199.17 146.50 L200.36 147.20 L201.56 147.91 L202.77 148.61 L203.99 149.31 L205.22 150.02 L206.46 150.72 L207.70 151.42 L208.96 152.13 L210.23 152.83 L211.51 153.53 L212.79 154.24 L214.09 154.94 L215.39 155.64 L216.71 156.35 L218.04 157.05 L219.37 157.75 L220.72 158.45 L222.08 159.16 L223.45 159.86 L224.82 160.56 L226.21 161.27 L227.61 161.97 L229.02 162.67 L230.44 163.38 L231.87 164.08 L233.32 164.78 L234.77 165.49 L236.24 166.19 L237.71 166.89 L239.20 167.60 L240.70 168.30 L242.21 169.00 L243.73 169.71 L245.26 170.41 L246.81 171.11 L248.37 171.81 L249.94 172.52 L251.52 173.22 L253.11 173.92 L254.72 174.63 L256.33 175.33 L257.96 176.03 L259.61 176.74 L261.26 177.44 L262.93 178.14 L264.61 178.85 L266.31 179.55 L268.01 180.25 L269.73 180.96 L271.47 181.66 L273.21 182.36 L274.97 183.07 L276.75 183.77 L278.53 184.47 L280.33 185.18 L282.15 185.88 L283.98 186.58 L285.82 187.28 L287.68 187.99 L289.55 188.69 L291.43 189.39 L293.33 190.10 L295.25 190.80 L297.17 191.50 L299.12 192.21 L301.08 192.91 L303.05 193.61 L305.04 194.32 L307.04 195.02 L309.06 195.72 L311.10 196.43 L313.15 197.13 L315.21 197.83 L317.30 198.54 L319.39 199.24 L321.51 199.94 L323.64 200.64 L325.79 201.35 L327.95 202.05 L330.13 202.75 L332.33 203.46 L334.54 204.16 L336.77 204.86 L339.02 205.57 L341.28 206.27 L343.56 206.97 L345.86 207.68 L348.18 208.38 L350.52 209.08 L352.87 209.79 L355.24 210.49 L357.63 211.19 L360.04 211.90 L362.46 212.60 L364.91 213.30 L367.37 214.00 L369.85 214.71 L372.35 215.41 L374.88 216.11 L377.42 216.82 L379.97 217.52 L382.55 218.22 L385.15 218.93 L387.77 219.63 L390.41 220.33 L393.07 221.04 L395.75 221.74 L398.45 222.44 L401.17 223.15 L403.91 223.85 L406.67 224.55 L409.46 225.26 L412.26 225.96 L415.09 226.66 L417.94 227.37 L420.81 228.07 L423.70 228.77 L426.61 229.47 L429.55 230.18 L432.51 230.88 L435.49 231.58 L438.50 232.29 L441.53 232.99 L444.58 233.69 L447.65 234.40 L450.75 235.10" fill="none" stroke="#000" stroke-width="3.0"/>
<path d="M79.06 24.15 L79.35 24.90 L79.64 25.65 L79.94 26.40 L80.23 27.15 L80.53 27.90 L80.83 28.65 L81.13 29.40 L81.44 30.15 L81.75 30.90 L82.06 31.65 L82.37 32.40 L82.69 33.15 L83.00 33.90 L83.32 34.65 L83.65 35.41 L83.97 36.16 L84.30 36.91 L84.63 37.66 L84.97 38.41 L85.31 39.16 L85.64 39.91 L85.99 40.66 L86.33 41.41 L86.68 42.16 L87.03 42.91 L87.38 43.66 L87.74 44.41 L88.10 45.16 L88.46 45.91 L88.83 46.66 L89.20 47.41 L89.57 48.16 L89.94 48.91 L90.32 49.66 L90.70 50.41 L91.09 51.16 L91.47 51.91 L91.86 52.66 L92.26 53.41 L92.65 54.16 L93.05 54.91 L93.46 55.66 L93.86 56.41 L94.27 57.16 L94.68 57.92 L95.10 58.67 L95.52 59.42 L95.94 60.17 L96.37 60.92 L96.80 61.67 L97.23 62.42 L97.67 63.17 L98.11 63.92 L98.56 64.67 L99.01 65.42 L99.46 66.17 L99.91 66.92 L100.37 67.67 L100.84 68.42 L101.30 69.17 L101.77 69.92 L102.25 70.67 L102.73 71.42 L103.21 72.17 L103.69 72.92 L104.18 73.67 L104.68 74.42 L105.18 75.17 L105.68 75.92 L106.19 76.67 L106.70 77.42 L107.21 78.17 L107.73 78.92 L108.25 79.67 L108.78 80.43 L109.31 81.18 L109.85 81.93 L110.39 82.68 L110.93 83.43 L111.48 84.18 L112.04 84.93 L112.60 85.68 L113.16 86.43 L113.73 87.18 L114.30 87.93 L114.88 88.68 L115.46 89.43 L116.04 90.18 L116.64 90.93 L117.23 91.68 L117.83 92.43 L118.44 93.18 L119.05 93.93 L119.67 94.68 L120.29 95.43 L120.91 96.18 L121.54 96.93 L122.18 97.68 L122.82 98.43 L123.47 99.18 L124.12 99.93 L124.78 100.68 L125.44 101.43 L126.11 102.18 L126.78 102.94 L127.46 103.69 L128.15 104.44 L128.84 105.19 L129.53 105.94 L130.24 106.69 L130.94 107.44 L131.66 108.19 L132.38 108.94 L133.10 109.69 L133.83 110.44 L134.57 111.19 L135.31 111.94 L136.06 112.69 L136.82 113.44 L137.58 114.19 L138.35 114.94 L139.12 115.69 L139.90 116.44 L140.69 117.19 L141.48 117.94 L142.28 118.69 L143.09 119.44 L143.90 120.19 L144.72 120.94 L145.54 121.69 L146.38 122.44 L147.22 123.19 L148.06 123.94 L148.92 124.69 L149.78 125.45 L150.64 126.20 L151.52 126.95 L152.40 127.70 L153.29 128.45 L154.19 129.20 L155.09 129.95 L156.00 130.70 L156.92 131.45 L157.85 132.20 L158.78 132.95 L159.72 133.70 L160.67 134.45 L161.63 135.20 L162.59 135.95 L163.56 136.70 L164.54 137.45 L165.53 138.20 L166.53 138.95 L167.53 139.70 L168.55 140.45 L169.57 141.20 L170.60 141.95 L171.64 142.70 L172.68 143.45 L173.74 144.20 L174.80 144.95 L175.87 145.70 L176.96 146.45 L178.05 147.20 L179.15 147.96 L180.25 148.71 L181.37 149.46 L182.50 150.21 L183.63 150.96 L184.78 151.71 L185.93 152.46 L187.09 153.21 L188.27 153.96 L189.45 154.71 L190.64 155.46 L191.85 156.21 L193.06 156.96 L194.28 157.71 L195.51 158.46 L196.75 159.21 L198.01 159.96 L199.27 160.71 L200.54 161.46 L201.82 162.21 L203.12 162.96 L204.42 163.71 L205.74 164.46 L207.06 165.21 L208.40 165.96 L209.75 166.71 L211.11 167.46 L212.48 168.21 L213.86 168.96 L215.25 169.71 L216.65 170.47 L218.07 171.22 L219.50 171.97 L220.93 172.72 L222.38 173.47 L223.85 174.22 L225.32 174.97 L226.81 175.72 L228.31 176.47 L229.82 177.22 L231.34 177.97 L232.87 178.72 L234.42 179.47 L235.98 180.22 L237.56 180.97 L239.14 181.72 L240.74 182.47 L242.36 183.22 L243.98 183.97 L245.62 184.72 L247.27 185.47 L248.94 186.22 L250.62 186.97 L252.31 187.72 L254.02 188.47 L255.74 189.22 L257.48 189.97 L259.23 190.72 L260.99 191.47 L262.77 192.22 L264.56 192.98 L266.37 193.73 L268.19 194.48 L270.03 195.23 L271.88 195.98 L273.75 196.73 L275.63 197.48 L277.53 198.23 L279.44 198.98 L281.37 199.73 L283.32 200.48 L285.28 201.23 L287.26 201.98 L289.25 202.73 L291.26 203.48 L293.28 204.23 L295.33 204.98 L297.39 205.73 L299.46 206.48 L301.56 207.23 L303.67 207.98 L305.79 208.73 L307.94 209.48 L310.10 210.23 L312.28 210.98 L314.48 211.73 L316.70 212.48 L318.93 213.23 L321.19 213.98 L323.46 214.73 L325.75 215.48 L328.06 216.24 L330.38 216.99 L332.73 217.74 L335.09 218.49 L337.48 219.24 L339.88 219.99 L342.31 220.74 L344.75 221.49 L347.22 222.24 L349.70 222.99 L352.21 223.74 L354.73 224.49 L357.28 225.24 L359.85 225.99 L362.43 226.74 L365.04 227.49 L367.67 228.24 L370.32 228.99 L373.00 229.74 L375.69 230.49 L378.41 231.24 L381.15 231.99 L383.91 232.74 L386.70 233.49 L389.51 234.24 L392.34 234.99 L395.19 235.74 L398.07 236.49 L400.97 237.24 L403.89 237.99 L406.84 238.75 L409.82 239.50 L412.81 240.25 L415.83 241.00 L418.88 241.75 L421.95 242.50 L425.05 243.25 L428.17 244.00 L431.32 244.75 L434.49 245.50 L437.69 246.25 L440.91 247.00 L444.17 247.75 L447.44 248.50 L450.75 249.25" fill="none" stroke="#000" stroke-width="3.0"/>
<path d="M73.17 24.15 L73.43 24.96 L73.69 25.76 L73.95 26.57 L74.21 27.38 L74.48 28.18 L74.75 28.99 L75.02 29.80 L75.30 30.60 L75.58 31.41 L75.86 32.21 L76.14 33.02 L76.42 33.83 L76.71 34.63 L77.00 35.44 L77.29 36.25 L77.58 37.05 L77.88 37.86 L78.18 38.67 L78.48 39.47 L78.79 40.28 L79.10 41.09 L79.41 41.89 L79.72 42.70 L80.04 43.51 L80.36 44.31 L80.68 45.12 L81.00 45.93 L81.33 46.73 L81.66 47.54 L81.99 48.35 L82.33 49.15 L82.67 49.96 L83.01 50.76 L83.35 51.57 L83.70 52.38 L84.05 53.18 L84.41 53.99 L84.76 54.80 L85.12 55.60 L85.49 56.41 L85.85 57.22 L86.22 58.02 L86.60 58.83 L86.97 59.64 L87.35 60.44 L87.74 61.25 L88.12 62.06 L88.51 62.86 L88.91 63.67 L89.30 64.47 L89.70 65.28 L90.11 66.09 L90.52 66.89 L90.93 67.70 L91.34 68.51 L91.76 69.31 L92.18 70.12 L92.61 70.93 L93.04 71.73 L93.47 72.54 L93.91 73.35 L94.35 74.15 L94.79 74.96 L95.24 75.77 L95.69 76.57 L96.15 77.38 L96.61 78.19 L97.08 78.99 L97.54 79.80 L98.02 80.60 L98.49 81.41 L98.98 82.22 L99.46 83.02 L99.95 83.83 L100.44 84.64 L100.94 85.44 L101.45 86.25 L101.95 87.06 L102.46 87.86 L102.98 88.67 L103.50 89.48 L104.03 90.28 L104.56 91.09 L105.09 91.90 L105.63 92.70 L106.18 93.51 L106.72 94.32 L107.28 95.12 L107.84 95.93 L108.40 96.73 L108.97 97.54 L109.54 98.35 L110.12 99.15 L110.70 99.96 L111.29 100.77 L111.89 101.57 L112.49 102.38 L113.09 103.19 L113.70 103.99 L114.32 104.80 L114.94 105.61 L115.56 106.41 L116.19 107.22 L116.83 108.03 L117.47 108.83 L118.12 109.64 L118.78 110.45 L119.44 111.25 L120.10 112.06 L120.77 112.86 L121.45 113.67 L122.13 114.48 L122.82 115.28 L123.52 116.09 L124.22 116.90 L124.93 117.70 L125.64 118.51 L126.36 119.32 L127.09 120.12 L127.82 120.93 L128.56 121.74 L129.31 122.54 L130.06 123.35 L130.82 124.16 L131.59 124.96 L132.36 125.77 L133.14 126.58 L133.92 127.38 L134.72 128.19 L135.52 129.00 L136.32 129.80 L137.14 130.61 L137.96 131.41 L138.79 132.22 L139.63 133.03 L140.47 133.83 L141.32 134.64 L142.18 135.45 L143.04 136.25 L143.92 137.06 L144.80 137.87 L145.69 138.67 L146.58 139.48 L147.49 140.29 L148.40 141.09 L149.32 141.90 L150.25 142.71 L151.19 143.51 L152.13 144.32 L153.09 145.12 L154.05 145.93 L155.02 146.74 L156.00 147.54 L156.99 148.35 L157.98 149.16 L158.99 149.96 L160.00 150.77 L161.02 151.58 L162.06 152.38 L163.10 153.19 L164.15 154.00 L165.21 154.80 L166.27 155.61 L167.35 156.42 L168.44 157.22 L169.54 158.03 L170.64 158.84 L171.76 159.64 L172.89 160.45 L174.02 161.25 L175.17 162.06 L176.33 162.87 L177.49 163.67 L178.67 164.48 L179.86 165.29 L181.05 166.09 L182.26 166.90 L183.48 167.71 L184.71 168.51 L185.95 169.32 L187.20 170.13 L188.47 170.93 L189.74 171.74 L191.02 172.55 L192.32 173.35 L193.63 174.16 L194.95 174.97 L196.28 175.77 L197.62 176.58 L198.97 177.38 L200.34 178.19 L201.72 179.00 L203.11 179.80 L204.51 180.61 L205.92 181.42 L207.35 182.22 L208.79 183.03 L210.24 183.84 L211.71 184.64 L213.19 185.45 L214.68 186.26 L216.18 187.06 L217.70 187.87 L219.23 188.68 L220.77 189.48 L222.33 190.29 L223.90 191.10 L225.49 191.90 L227.09 192.71 L228.70 193.51 L230.33 194.32 L231.97 195.13 L233.63 195.93 L235.30 196.74 L236.99 197.55 L238.69 198.35 L240.40 199.16 L242.13 199.97 L243.88 200.77 L245.64 201.58 L247.42 202.39 L249.21 203.19 L251.02 204.00 L252.84 204.81 L254.68 205.61 L256.54 206.42 L258.41 207.23 L260.30 208.03 L262.21 208.84 L264.13 209.65 L266.07 210.45 L268.03 211.26 L270.00 212.06 L271.99 212.87 L274.00 213.68 L276.03 214.48 L278.07 215.29 L280.13 216.10 L282.21 216.90 L284.31 217.71 L286.43 218.52 L288.57 219.32 L290.72 220.13 L292.89 220.94 L295.09 221.74 L297.30 222.55 L299.53 223.36 L301.78 224.16 L304.05 224.97 L306.34 225.78 L308.66 226.58 L310.99 227.39 L313.34 228.19 L315.71 229.00 L318.11 229.81 L320.52 230.61 L322.96 231.42 L325.42 232.23 L327.89 233.03 L330.40 233.84 L332.92 234.65 L335.46 235.45 L338.03 236.26 L340.62 237.07 L343.24 237.87 L345.87 238.68 L348.53 239.49 L351.21 240.29 L353.92 241.10 L356.65 241.91 L359.41 242.71 L362.18 243.52 L364.99 244.32 L367.81 245.13 L370.67 245.94 L373.54 246.74 L376.45 247.55 L379.38 248.36 L382.33 249.16 L385.31 249.97 L388.32 250.78 L391.35 251.58 L394.41 252.39 L397.50 253.20 L400.61 254.00 L403.75 254.81 L406.92 255.62 L410.12 256.42 L413.34 257.23 L416.60 258.04 L419.88 258.84 L423.19 259.65 L426.53 260.45 L429.90 261.26 L433.30 262.07 L436.73 262.87 L440.19 263.68 L443.68 264.49 L447.20 265.29 L450.75 266.10" fill="none" stroke="#000" stroke-width="3.0"/>
<path d="M67.27 24.15 L67.49 25.03 L67.72 25.90 L67.95 26.78 L68.18 27.65 L68.41 28.53 L68.65 29.40 L68.88 30.28 L69.12 31.15 L69.37 32.03 L69.61 32.90 L69.86 33.78 L70.10 34.65 L70.36 35.53 L70.61 36.40 L70.87 37.28 L71.12 38.16 L71.38 39.03 L71.65 39.91 L71.91 40.78 L72.18 41.66 L72.45 42.53 L72.73 43.41 L73.00 44.28 L73.28 45.16 L73.56 46.03 L73.85 46.91 L74.13 47.78 L74.42 48.66 L74.72 49.53 L75.01 50.41 L75.31 51.29 L75.61 52.16 L75.91 53.04 L76.22 53.91 L76.53 54.79 L76.84 55.66 L77.16 56.54 L77.48 57.41 L77.80 58.29 L78.12 59.16 L78.45 60.04 L78.78 60.91 L79.12 61.79 L79.45 62.66 L79.79 63.54 L80.14 64.42 L80.49 65.29 L80.84 66.17 L81.19 67.04 L81.55 67.92 L81.91 68.79 L82.27 69.67 L82.64 70.54 L83.01 71.42 L83.38 72.29 L83.76 73.17 L84.14 74.04 L84.53 74.92 L84.92 75.79 L85.31 76.67 L85.71 77.55 L86.11 78.42 L86.51 79.30 L86.92 80.17 L87.33 81.05 L87.75 81.92 L88.17 82.80 L88.59 83.67 L89.02 84.55 L89.45 85.42 L89.89 86.30 L90.33 87.17 L90.77 88.05 L91.22 88.92 L91.67 89.80 L92.13 90.68 L92.59 91.55 L93.06 92.43 L93.53 93.30 L94.00 94.18 L94.48 95.05 L94.97 95.93 L95.46 96.80 L95.95 97.68 L96.45 98.55 L96.95 99.43 L97.46 100.30 L97.97 101.18 L98.49 102.05 L99.01 102.93 L99.54 103.81 L100.07 104.68 L100.61 105.56 L101.15 106.43 L101.70 107.31 L102.25 108.18 L102.81 109.06 L103.38 109.93 L103.95 110.81 L104.52 111.68 L105.10 112.56 L105.69 113.43 L106.28 114.31 L106.87 115.18 L107.48 116.06 L108.09 116.94 L108.70 117.81 L109.32 118.69 L109.95 119.56 L110.58 120.44 L111.22 121.31 L111.86 122.19 L112.51 123.06 L113.17 123.94 L113.83 124.81 L114.50 125.69 L115.17 126.56 L115.86 127.44 L116.54 128.31 L117.24 129.19 L117.94 130.07 L118.65 130.94 L119.37 131.82 L120.09 132.69 L120.82 133.57 L121.55 134.44 L122.30 135.32 L123.05 136.19 L123.80 137.07 L124.57 137.94 L125.34 138.82 L126.12 139.69 L126.90 140.57 L127.70 141.44 L128.50 142.32 L129.31 143.20 L130.13 144.07 L130.95 144.95 L131.78 145.82 L132.63 146.70 L133.47 147.57 L134.33 148.45 L135.20 149.32 L136.07 150.20 L136.95 151.07 L137.84 151.95 L138.74 152.82 L139.65 153.70 L140.56 154.57 L141.49 155.45 L142.42 156.33 L143.36 157.20 L144.32 158.08 L145.28 158.95 L146.25 159.83 L147.23 160.70 L148.21 161.58 L149.21 162.45 L150.22 163.33 L151.24 164.20 L152.26 165.08 L153.30 165.95 L154.35 166.83 L155.40 167.70 L156.47 168.58 L157.55 169.46 L158.63 170.33 L159.73 171.21 L160.84 172.08 L161.96 172.96 L163.09 173.83 L164.23 174.71 L165.38 175.58 L166.54 176.46 L167.71 177.33 L168.90 178.21 L170.09 179.08 L171.30 179.96 L172.52 180.83 L173.75 181.71 L174.99 182.59 L176.24 183.46 L177.51 184.34 L178.79 185.21 L180.08 186.09 L181.38 186.96 L182.69 187.84 L184.02 188.71 L185.36 189.59 L186.72 190.46 L188.08 191.34 L189.46 192.21 L190.85 193.09 L192.26 193.96 L193.68 194.84 L195.11 195.72 L196.56 196.59 L198.02 197.47 L199.49 198.34 L200.98 199.22 L202.48 200.09 L204.00 200.97 L205.53 201.84 L207.07 202.72 L208.63 203.59 L210.21 204.47 L211.80 205.34 L213.41 206.22 L215.03 207.09 L216.66 207.97 L218.32 208.85 L219.98 209.72 L221.67 210.60 L223.37 211.47 L225.08 212.35 L226.82 213.22 L228.57 214.10 L230.33 214.97 L232.11 215.85 L233.91 216.72 L235.73 217.60 L237.57 218.47 L239.42 219.35 L241.29 220.22 L243.18 221.10 L245.08 221.98 L247.01 222.85 L248.95 223.73 L250.91 224.60 L252.89 225.48 L254.89 226.35 L256.90 227.23 L258.94 228.10 L261.00 228.98 L263.07 229.85 L265.17 230.73 L267.29 231.60 L269.42 232.48 L271.58 233.35 L273.76 234.23 L275.95 235.11 L278.17 235.98 L280.41 236.86 L282.67 237.73 L284.96 238.61 L287.26 239.48 L289.59 240.36 L291.94 241.23 L294.31 242.11 L296.71 242.98 L299.12 243.86 L301.56 244.73 L304.03 245.61 L306.52 246.48 L309.03 247.36 L311.56 248.24 L314.12 249.11 L316.70 249.99 L319.31 250.86 L321.95 251.74 L324.61 252.61 L327.29 253.49 L330.00 254.36 L332.74 255.24 L335.50 256.11 L338.29 256.99 L341.10 257.86 L343.94 258.74 L346.81 259.61 L349.71 260.49 L352.63 261.37 L355.58 262.24 L358.56 263.12 L361.57 263.99 L364.61 264.87 L367.68 265.74 L370.77 266.62 L373.90 267.49 L377.05 268.37 L380.24 269.24 L383.46 270.12 L386.70 270.99 L389.98 271.87 L393.29 272.74 L396.63 273.62 L400.00 274.50 L403.41 275.37 L406.84 276.25 L410.32 277.12 L413.82 278.00 L417.36 278.87 L420.93 279.75 L424.53 280.62 L428.17 281.50 L431.85 282.37 L435.55 283.25 L439.30 284.12 L443.08 285.00 L446.90 285.87 L450.75 286.75" fill="none" stroke="#000" stroke-width="3.0"/>
<path d="M62.62 24.15 L62.81 25.09 L63.01 26.04 L63.21 26.98 L63.41 27.92 L63.61 28.87 L63.81 29.81 L64.02 30.75 L64.23 31.70 L64.44 32.64 L64.65 33.58 L64.86 34.52 L65.08 35.47 L65.30 36.41 L65.52 37.35 L65.74 38.30 L65.97 39.24 L66.20 40.18 L66.43 41.13 L66.66 42.07 L66.89 43.01 L67.13 43.96 L67.37 44.90 L67.61 45.84 L67.86 46.79 L68.11 47.73 L68.36 48.67 L68.61 49.62 L68.87 50.56 L69.12 51.50 L69.38 52.44 L69.65 53.39 L69.91 54.33 L70.18 55.27 L70.45 56.22 L70.73 57.16 L71.01 58.10 L71.28 59.05 L71.57 59.99 L71.85 60.93 L72.14 61.88 L72.43 62.82 L72.73 63.76 L73.03 64.71 L73.33 65.65 L73.63 66.59 L73.94 67.54 L74.25 68.48 L74.56 69.42 L74.88 70.37 L75.20 71.31 L75.52 72.25 L75.85 73.19 L76.18 74.14 L76.51 75.08 L76.85 76.02 L77.19 76.97 L77.53 77.91 L77.88 78.85 L78.23 79.80 L78.58 80.74 L78.94 81.68 L79.30 82.63 L79.67 83.57 L80.04 84.51 L80.41 85.46 L80.79 86.40 L81.17 87.34 L81.55 88.29 L81.94 89.23 L82.34 90.17 L82.73 91.11 L83.13 92.06 L83.54 93.00 L83.95 93.94 L84.36 94.89 L84.78 95.83 L85.20 96.77 L85.63 97.72 L86.06 98.66 L86.49 99.60 L86.93 100.55 L87.38 101.49 L87.82 102.43 L88.28 103.38 L88.74 104.32 L89.20 105.26 L89.67 106.21 L90.14 107.15 L90.62 108.09 L91.10 109.03 L91.58 109.98 L92.08 110.92 L92.57 111.86 L93.08 112.81 L93.58 113.75 L94.10 114.69 L94.61 115.64 L95.14 116.58 L95.67 117.52 L96.20 118.47 L96.74 119.41 L97.28 120.35 L97.84 121.30 L98.39 122.24 L98.95 123.18 L99.52 124.13 L100.10 125.07 L100.68 126.01 L101.26 126.96 L101.85 127.90 L102.45 128.84 L103.05 129.78 L103.67 130.73 L104.28 131.67 L104.90 132.61 L105.53 133.56 L106.17 134.50 L106.81 135.44 L107.46 136.39 L108.12 137.33 L108.78 138.27 L109.45 139.22 L110.12 140.16 L110.81 141.10 L111.50 142.05 L112.19 142.99 L112.90 143.93 L113.61 144.88 L114.33 145.82 L115.06 146.76 L115.79 147.70 L116.53 148.65 L117.28 149.59 L118.04 150.53 L118.80 151.48 L119.57 152.42 L120.36 153.36 L121.14 154.31 L121.94 155.25 L122.75 156.19 L123.56 157.14 L124.38 158.08 L125.21 159.02 L126.05 159.97 L126.90 160.91 L127.75 161.85 L128.62 162.80 L129.49 163.74 L130.37 164.68 L131.26 165.62 L132.17 166.57 L133.08 167.51 L133.99 168.45 L134.92 169.40 L135.86 170.34 L136.81 171.28 L137.77 172.23 L138.74 173.17 L139.71 174.11 L140.70 175.06 L141.70 176.00 L142.71 176.94 L143.73 177.89 L144.76 178.83 L145.80 179.77 L146.85 180.72 L147.91 181.66 L148.98 182.60 L150.07 183.55 L151.16 184.49 L152.27 185.43 L153.38 186.37 L154.51 187.32 L155.65 188.26 L156.81 189.20 L157.97 190.15 L159.15 191.09 L160.33 192.03 L161.53 192.98 L162.75 193.92 L163.97 194.86 L165.21 195.81 L166.46 196.75 L167.72 197.69 L169.00 198.64 L170.29 199.58 L171.59 200.52 L172.91 201.47 L174.24 202.41 L175.58 203.35 L176.94 204.29 L178.31 205.24 L179.70 206.18 L181.10 207.12 L182.51 208.07 L183.94 209.01 L185.39 209.95 L186.85 210.90 L188.32 211.84 L189.81 212.78 L191.31 213.73 L192.83 214.67 L194.37 215.61 L195.92 216.56 L197.49 217.50 L199.07 218.44 L200.67 219.39 L202.28 220.33 L203.92 221.27 L205.57 222.21 L207.23 223.16 L208.92 224.10 L210.62 225.04 L212.34 225.99 L214.07 226.93 L215.83 227.87 L217.60 228.82 L219.39 229.76 L221.20 230.70 L223.03 231.65 L224.87 232.59 L226.74 233.53 L228.62 234.48 L230.53 235.42 L232.45 236.36 L234.40 237.31 L236.36 238.25 L238.34 239.19 L240.35 240.14 L242.37 241.08 L244.42 242.02 L246.48 242.96 L248.57 243.91 L250.68 244.85 L252.81 245.79 L254.97 246.74 L257.14 247.68 L259.34 248.62 L261.56 249.57 L263.81 250.51 L266.07 251.45 L268.36 252.40 L270.68 253.34 L273.01 254.28 L275.38 255.23 L277.76 256.17 L280.17 257.11 L282.61 258.06 L285.07 259.00 L287.55 259.94 L290.06 260.88 L292.60 261.83 L295.17 262.77 L297.76 263.71 L300.37 264.66 L303.02 265.60 L305.69 266.54 L308.38 267.49 L311.11 268.43 L313.86 269.37 L316.65 270.32 L319.46 271.26 L322.30 272.20 L325.17 273.15 L328.07 274.09 L331.00 275.03 L333.95 275.98 L336.94 276.92 L339.96 277.86 L343.02 278.81 L346.10 279.75 L349.21 280.69 L352.36 281.63 L355.54 282.58 L358.75 283.52 L362.00 284.46 L365.28 285.41 L368.59 286.35 L371.93 287.29 L375.32 288.24 L378.73 289.18 L382.18 290.12 L385.67 291.07 L389.19 292.01 L392.75 292.95 L396.34 293.90 L399.98 294.84 L403.65 295.78 L407.35 296.73 L411.10 297.67 L414.89 298.61 L418.71 299.55 L422.57 300.50 L426.47 301.44 L430.42 302.38 L434.40 303.33 L438.43 304.27 L442.49 305.21 L446.60 306.16 L450.75 307.10" fill="none" stroke="#000" stroke-width="3.0"/>
<path d="M56.68 24.15 L56.82 25.21 L56.97 26.27 L57.13 27.33 L57.28 28.39 L57.44 29.45 L57.59 30.51 L57.75 31.57 L57.92 32.63 L58.08 33.69 L58.24 34.75 L58.41 35.81 L58.58 36.87 L58.75 37.93 L58.92 38.99 L59.10 40.05 L59.27 41.11 L59.45 42.17 L59.63 43.23 L59.82 44.29 L60.00 45.35 L60.19 46.41 L60.38 47.47 L60.57 48.53 L60.76 49.59 L60.96 50.65 L61.16 51.71 L61.36 52.77 L61.56 53.83 L61.77 54.89 L61.98 55.94 L62.19 57.00 L62.40 58.06 L62.61 59.12 L62.83 60.18 L63.05 61.24 L63.27 62.30 L63.50 63.36 L63.73 64.42 L63.96 65.48 L64.19 66.54 L64.43 67.60 L64.67 68.66 L64.91 69.72 L65.15 70.78 L65.40 71.84 L65.65 72.90 L65.90 73.96 L66.16 75.02 L66.42 76.08 L66.68 77.14 L66.94 78.20 L67.21 79.26 L67.48 80.32 L67.75 81.38 L68.03 82.44 L68.31 83.50 L68.60 84.56 L68.88 85.62 L69.17 86.68 L69.47 87.74 L69.76 88.80 L70.06 89.86 L70.37 90.92 L70.67 91.98 L70.99 93.04 L71.30 94.10 L71.62 95.16 L71.94 96.22 L72.27 97.28 L72.60 98.34 L72.93 99.40 L73.27 100.46 L73.61 101.52 L73.95 102.58 L74.30 103.64 L74.65 104.70 L75.01 105.76 L75.37 106.82 L75.74 107.88 L76.11 108.94 L76.48 110.00 L76.86 111.06 L77.24 112.12 L77.63 113.18 L78.02 114.24 L78.42 115.30 L78.82 116.36 L79.22 117.42 L79.63 118.48 L80.05 119.53 L80.47 120.59 L80.89 121.65 L81.32 122.71 L81.76 123.77 L82.19 124.83 L82.64 125.89 L83.09 126.95 L83.54 128.01 L84.00 129.07 L84.47 130.13 L84.94 131.19 L85.42 132.25 L85.90 133.31 L86.39 134.37 L86.88 135.43 L87.38 136.49 L87.88 137.55 L88.39 138.61 L88.91 139.67 L89.43 140.73 L89.96 141.79 L90.49 142.85 L91.03 143.91 L91.58 144.97 L92.13 146.03 L92.69 147.09 L93.26 148.15 L93.83 149.21 L94.41 150.27 L95.00 151.33 L95.59 152.39 L96.19 153.45 L96.80 154.51 L97.41 155.57 L98.03 156.63 L98.66 157.69 L99.29 158.75 L99.94 159.81 L100.59 160.87 L101.24 161.93 L101.91 162.99 L102.58 164.05 L103.26 165.11 L103.95 166.17 L104.65 167.23 L105.35 168.29 L106.07 169.35 L106.79 170.41 L107.52 171.47 L108.25 172.53 L109.00 173.59 L109.76 174.65 L110.52 175.71 L111.29 176.77 L112.07 177.83 L112.86 178.89 L113.66 179.95 L114.47 181.01 L115.29 182.07 L116.12 183.12 L116.96 184.18 L117.80 185.24 L118.66 186.30 L119.53 187.36 L120.41 188.42 L121.29 189.48 L122.19 190.54 L123.10 191.60 L124.02 192.66 L124.95 193.72 L125.89 194.78 L126.84 195.84 L127.80 196.90 L128.77 197.96 L129.75 199.02 L130.75 200.08 L131.76 201.14 L132.78 202.20 L133.81 203.26 L134.85 204.32 L135.90 205.38 L136.97 206.44 L138.05 207.50 L139.14 208.56 L140.25 209.62 L141.36 210.68 L142.49 211.74 L143.64 212.80 L144.79 213.86 L145.96 214.92 L147.14 215.98 L148.34 217.04 L149.55 218.10 L150.78 219.16 L152.02 220.22 L153.27 221.28 L154.54 222.34 L155.82 223.40 L157.12 224.46 L158.43 225.52 L159.76 226.58 L161.10 227.64 L162.46 228.70 L163.83 229.76 L165.23 230.82 L166.63 231.88 L168.05 232.94 L169.49 234.00 L170.95 235.06 L172.42 236.12 L173.91 237.18 L175.42 238.24 L176.94 239.30 L178.49 240.36 L180.05 241.42 L181.62 242.48 L183.22 243.54 L184.84 244.60 L186.47 245.66 L188.12 246.71 L189.79 247.77 L191.49 248.83 L193.20 249.89 L194.93 250.95 L196.68 252.01 L198.45 253.07 L200.24 254.13 L202.05 255.19 L203.89 256.25 L205.74 257.31 L207.62 258.37 L209.51 259.43 L211.43 260.49 L213.37 261.55 L215.34 262.61 L217.33 263.67 L219.34 264.73 L221.37 265.79 L223.43 266.85 L225.51 267.91 L227.61 268.97 L229.74 270.03 L231.90 271.09 L234.08 272.15 L236.28 273.21 L238.51 274.27 L240.76 275.33 L243.05 276.39 L245.35 277.45 L247.69 278.51 L250.05 279.57 L252.44 280.63 L254.86 281.69 L257.30 282.75 L259.78 283.81 L262.28 284.87 L264.81 285.93 L267.37 286.99 L269.96 288.05 L272.58 289.11 L275.23 290.17 L277.91 291.23 L280.62 292.29 L283.37 293.35 L286.14 294.41 L288.95 295.47 L291.79 296.53 L294.66 297.59 L297.57 298.65 L300.51 299.71 L303.48 300.77 L306.49 301.83 L309.53 302.89 L312.61 303.95 L315.73 305.01 L318.88 306.07 L322.06 307.13 L325.29 308.19 L328.55 309.25 L331.85 310.31 L335.19 311.36 L338.56 312.42 L341.98 313.48 L345.43 314.54 L348.92 315.60 L352.46 316.66 L356.04 317.72 L359.65 318.78 L363.31 319.84 L367.01 320.90 L370.76 321.96 L374.55 323.02 L378.38 324.08 L382.25 325.14 L386.18 326.20 L390.14 327.26 L394.15 328.32 L398.21 329.38 L402.32 330.44 L406.47 331.50 L410.67 332.56 L414.93 333.62 L419.22 334.68 L423.57 335.74 L427.97 336.80 L432.42 337.86 L436.93 338.92 L441.48 339.98 L446.09 341.04 L450.75 342.10" fill="none" stroke="#000" stroke-width="3.0"/>
<path d="M53.19 24.15 L53.31 25.31 L53.43 26.46 L53.55 27.62 L53.68 28.78 L53.80 29.93 L53.93 31.09 L54.05 32.25 L54.18 33.40 L54.31 34.56 L54.45 35.72 L54.58 36.88 L54.72 38.03 L54.86 39.19 L54.99 40.35 L55.14 41.50 L55.28 42.66 L55.42 43.82 L55.57 44.97 L55.72 46.13 L55.87 47.29 L56.02 48.44 L56.18 49.60 L56.33 50.76 L56.49 51.91 L56.65 53.07 L56.81 54.23 L56.98 55.38 L57.14 56.54 L57.31 57.70 L57.48 58.86 L57.65 60.01 L57.83 61.17 L58.01 62.33 L58.19 63.48 L58.37 64.64 L58.55 65.80 L58.74 66.95 L58.93 68.11 L59.12 69.27 L59.31 70.42 L59.51 71.58 L59.70 72.74 L59.91 73.89 L60.11 75.05 L60.31 76.21 L60.52 77.36 L60.73 78.52 L60.95 79.68 L61.17 80.83 L61.38 81.99 L61.61 83.15 L61.83 84.31 L62.06 85.46 L62.29 86.62 L62.52 87.78 L62.76 88.93 L63.00 90.09 L63.24 91.25 L63.49 92.40 L63.74 93.56 L63.99 94.72 L64.24 95.87 L64.50 97.03 L64.76 98.19 L65.03 99.34 L65.30 100.50 L65.57 101.66 L65.84 102.81 L66.12 103.97 L66.40 105.13 L66.69 106.29 L66.98 107.44 L67.27 108.60 L67.57 109.76 L67.87 110.91 L68.17 112.07 L68.48 113.23 L68.79 114.38 L69.11 115.54 L69.43 116.70 L69.75 117.85 L70.08 119.01 L70.41 120.17 L70.75 121.32 L71.09 122.48 L71.43 123.64 L71.78 124.79 L72.13 125.95 L72.49 127.11 L72.86 128.27 L73.22 129.42 L73.59 130.58 L73.97 131.74 L74.35 132.89 L74.74 134.05 L75.13 135.21 L75.53 136.36 L75.93 137.52 L76.33 138.68 L76.74 139.83 L77.16 140.99 L77.58 142.15 L78.01 143.30 L78.44 144.46 L78.88 145.62 L79.32 146.77 L79.77 147.93 L80.23 149.09 L80.69 150.24 L81.15 151.40 L81.63 152.56 L82.10 153.72 L82.59 154.87 L83.08 156.03 L83.57 157.19 L84.08 158.34 L84.59 159.50 L85.10 160.66 L85.62 161.81 L86.15 162.97 L86.69 164.13 L87.23 165.28 L87.78 166.44 L88.34 167.60 L88.90 168.75 L89.47 169.91 L90.05 171.07 L90.63 172.22 L91.22 173.38 L91.82 174.54 L92.43 175.70 L93.05 176.85 L93.67 178.01 L94.30 179.17 L94.94 180.32 L95.58 181.48 L96.24 182.64 L96.90 183.79 L97.57 184.95 L98.25 186.11 L98.94 187.26 L99.64 188.42 L100.35 189.58 L101.06 190.73 L101.79 191.89 L102.52 193.05 L103.26 194.20 L104.01 195.36 L104.77 196.52 L105.55 197.68 L106.33 198.83 L107.12 199.99 L107.92 201.15 L108.73 202.30 L109.55 203.46 L110.38 204.62 L111.22 205.77 L112.08 206.93 L112.94 208.09 L113.81 209.24 L114.70 210.40 L115.60 211.56 L116.50 212.71 L117.42 213.87 L118.36 215.03 L119.30 216.18 L120.25 217.34 L121.22 218.50 L122.20 219.65 L123.19 220.81 L124.20 221.97 L125.21 223.13 L126.24 224.28 L127.28 225.44 L128.34 226.60 L129.41 227.75 L130.49 228.91 L131.59 230.07 L132.70 231.22 L133.82 232.38 L134.96 233.54 L136.12 234.69 L137.28 235.85 L138.47 237.01 L139.66 238.16 L140.88 239.32 L142.10 240.48 L143.35 241.63 L144.61 242.79 L145.88 243.95 L147.17 245.11 L148.48 246.26 L149.80 247.42 L151.15 248.58 L152.50 249.73 L153.88 250.89 L155.27 252.05 L156.68 253.20 L158.11 254.36 L159.56 255.52 L161.02 256.67 L162.50 257.83 L164.00 258.99 L165.52 260.14 L167.06 261.30 L168.62 262.46 L170.20 263.61 L171.80 264.77 L173.42 265.93 L175.06 267.08 L176.72 268.24 L178.40 269.40 L180.11 270.56 L181.83 271.71 L183.58 272.87 L185.34 274.03 L187.13 275.18 L188.95 276.34 L190.78 277.50 L192.64 278.65 L194.53 279.81 L196.43 280.97 L198.36 282.12 L200.32 283.28 L202.30 284.44 L204.30 285.59 L206.34 286.75 L208.39 287.91 L210.47 289.06 L212.58 290.22 L214.72 291.38 L216.88 292.54 L219.07 293.69 L221.29 294.85 L223.53 296.01 L225.81 297.16 L228.11 298.32 L230.44 299.48 L232.80 300.63 L235.19 301.79 L237.61 302.95 L240.07 304.10 L242.55 305.26 L245.06 306.42 L247.61 307.57 L250.19 308.73 L252.80 309.89 L255.44 311.04 L258.12 312.20 L260.83 313.36 L263.58 314.52 L266.36 315.67 L269.18 316.83 L272.03 317.99 L274.91 319.14 L277.84 320.30 L280.80 321.46 L283.80 322.61 L286.83 323.77 L289.91 324.93 L293.02 326.08 L296.18 327.24 L299.37 328.40 L302.60 329.55 L305.88 330.71 L309.19 331.87 L312.55 333.02 L315.95 334.18 L319.39 335.34 L322.88 336.50 L326.41 337.65 L329.99 338.81 L333.61 339.97 L337.27 341.12 L340.99 342.28 L344.75 343.44 L348.56 344.59 L352.41 345.75 L356.32 346.91 L360.27 348.06 L364.27 349.22 L368.33 350.38 L372.44 351.53 L376.59 352.69 L380.80 353.85 L385.07 355.00 L389.39 356.16 L393.76 357.32 L398.19 358.47 L402.67 359.63 L407.21 360.79 L411.81 361.95 L416.46 363.10 L421.18 364.26 L425.95 365.42 L430.79 366.57 L435.69 367.73 L440.64 368.89 L445.67 370.04 L450.75 371.20" fill="none" stroke="#000" stroke-width="3.0"/>
<path d="M49.67 24.15 L49.76 25.45 L49.84 26.75 L49.93 28.05 L50.01 29.36 L50.10 30.66 L50.19 31.96 L50.28 33.26 L50.37 34.56 L50.47 35.86 L50.56 37.16 L50.66 38.47 L50.75 39.77 L50.85 41.07 L50.95 42.37 L51.05 43.67 L51.16 44.97 L51.26 46.28 L51.37 47.58 L51.47 48.88 L51.58 50.18 L51.69 51.48 L51.81 52.78 L51.92 54.08 L52.03 55.39 L52.15 56.69 L52.27 57.99 L52.39 59.29 L52.51 60.59 L52.64 61.89 L52.76 63.19 L52.89 64.50 L53.02 65.80 L53.15 67.10 L53.28 68.40 L53.42 69.70 L53.55 71.00 L53.69 72.31 L53.83 73.61 L53.97 74.91 L54.12 76.21 L54.26 77.51 L54.41 78.81 L54.56 80.11 L54.72 81.42 L54.87 82.72 L55.03 84.02 L55.19 85.32 L55.35 86.62 L55.51 87.92 L55.68 89.23 L55.85 90.53 L56.02 91.83 L56.19 93.13 L56.37 94.43 L56.55 95.73 L56.73 97.03 L56.91 98.34 L57.10 99.64 L57.29 100.94 L57.48 102.24 L57.67 103.54 L57.87 104.84 L58.07 106.14 L58.27 107.45 L58.48 108.75 L58.69 110.05 L58.90 111.35 L59.11 112.65 L59.33 113.95 L59.55 115.25 L59.78 116.56 L60.00 117.86 L60.23 119.16 L60.47 120.46 L60.71 121.76 L60.95 123.06 L61.19 124.37 L61.44 125.67 L61.69 126.97 L61.94 128.27 L62.20 129.57 L62.46 130.87 L62.73 132.17 L63.00 133.48 L63.27 134.78 L63.55 136.08 L63.83 137.38 L64.11 138.68 L64.40 139.98 L64.69 141.29 L64.99 142.59 L65.29 143.89 L65.60 145.19 L65.91 146.49 L66.22 147.79 L66.54 149.09 L66.87 150.40 L67.19 151.70 L67.53 153.00 L67.86 154.30 L68.21 155.60 L68.55 156.90 L68.91 158.20 L69.26 159.51 L69.62 160.81 L69.99 162.11 L70.36 163.41 L70.74 164.71 L71.13 166.01 L71.52 167.31 L71.91 168.62 L72.31 169.92 L72.72 171.22 L73.13 172.52 L73.54 173.82 L73.97 175.12 L74.40 176.43 L74.83 177.73 L75.27 179.03 L75.72 180.33 L76.18 181.63 L76.64 182.93 L77.10 184.23 L77.58 185.54 L78.06 186.84 L78.55 188.14 L79.04 189.44 L79.54 190.74 L80.05 192.04 L80.57 193.35 L81.09 194.65 L81.62 195.95 L82.16 197.25 L82.71 198.55 L83.26 199.85 L83.82 201.15 L84.39 202.46 L84.97 203.76 L85.55 205.06 L86.15 206.36 L86.75 207.66 L87.36 208.96 L87.98 210.26 L88.61 211.57 L89.25 212.87 L89.90 214.17 L90.55 215.47 L91.22 216.77 L91.89 218.07 L92.58 219.38 L93.27 220.68 L93.98 221.98 L94.69 223.28 L95.42 224.58 L96.15 225.88 L96.90 227.18 L97.65 228.49 L98.42 229.79 L99.20 231.09 L99.99 232.39 L100.79 233.69 L101.60 234.99 L102.42 236.29 L103.26 237.60 L104.10 238.90 L104.96 240.20 L105.83 241.50 L106.72 242.80 L107.61 244.10 L108.52 245.41 L109.44 246.71 L110.38 248.01 L111.32 249.31 L112.29 250.61 L113.26 251.91 L114.25 253.21 L115.25 254.52 L116.27 255.82 L117.30 257.12 L118.35 258.42 L119.41 259.72 L120.49 261.02 L121.58 262.32 L122.69 263.63 L123.81 264.93 L124.95 266.23 L126.11 267.53 L127.28 268.83 L128.47 270.13 L129.67 271.44 L130.90 272.74 L132.14 274.04 L133.39 275.34 L134.67 276.64 L135.96 277.94 L137.28 279.24 L138.61 280.55 L139.96 281.85 L141.33 283.15 L142.72 284.45 L144.13 285.75 L145.55 287.05 L147.00 288.35 L148.47 289.66 L149.96 290.96 L151.48 292.26 L153.01 293.56 L154.57 294.86 L156.14 296.16 L157.74 297.47 L159.37 298.77 L161.01 300.07 L162.68 301.37 L164.38 302.67 L166.09 303.97 L167.83 305.27 L169.60 306.58 L171.39 307.88 L173.21 309.18 L175.05 310.48 L176.92 311.78 L178.82 313.08 L180.74 314.38 L182.69 315.69 L184.67 316.99 L186.68 318.29 L188.71 319.59 L190.78 320.89 L192.87 322.19 L194.99 323.50 L197.15 324.80 L199.33 326.10 L201.55 327.40 L203.79 328.70 L206.07 330.00 L208.38 331.30 L210.73 332.61 L213.11 333.91 L215.52 335.21 L217.96 336.51 L220.45 337.81 L222.96 339.11 L225.51 340.41 L228.10 341.72 L230.73 343.02 L233.39 344.32 L236.09 345.62 L238.83 346.92 L241.61 348.22 L244.43 349.53 L247.28 350.83 L250.18 352.13 L253.12 353.43 L256.10 354.73 L259.13 356.03 L262.20 357.33 L265.31 358.64 L268.46 359.94 L271.66 361.24 L274.91 362.54 L278.20 363.84 L281.54 365.14 L284.93 366.44 L288.36 367.75 L291.84 369.05 L295.38 370.35 L298.96 371.65 L302.60 372.95 L306.28 374.25 L310.02 375.56 L313.82 376.86 L317.66 378.16 L321.56 379.46 L325.52 380.76 L329.53 382.06 L333.60 383.36 L337.73 384.67 L341.92 385.97 L346.17 387.27 L350.47 388.57 L354.84 389.87 L359.27 391.17 L363.77 392.47 L368.33 393.78 L372.95 395.08 L377.64 396.38 L382.39 397.68 L387.22 398.98 L392.11 400.28 L397.07 401.59 L402.10 402.89 L407.21 404.19 L412.39 405.49 L417.64 406.79 L422.96 408.09 L428.36 409.39 L433.84 410.70 L439.40 412.00 L445.03 413.30 L450.75 414.60" fill="none" stroke="#000" stroke-width="3.0"/>
<text transform="translate(358.90,57.40) scale(1,1.0)" font-size="14.6" fill="#fff" stroke="#fff" stroke-width="0.08" text-anchor="start" fill-opacity="0.9" stroke-opacity="0.9">ohne Maske</text>
<text transform="translate(358.90,121.80) scale(1,1.0)" font-size="14.6" fill="#fff" stroke="#fff" stroke-width="0.08" text-anchor="start" fill-opacity="0.9" stroke-opacity="0.9">OP-Maske</text>
<text transform="translate(358.90,226.60) scale(1,1.0)" font-size="14.6" fill="#fff" stroke="#fff" stroke-width="0.08" text-anchor="start" fill-opacity="0.9" stroke-opacity="0.9">FFP2-Maske</text>
<text transform="translate(75.86,424.80) rotate(-90) scale(1,1.0)" font-size="14.6" fill="#808080" stroke="#808080" stroke-width="0.15" text-anchor="start">sehr gute Lüftung</text>
<text transform="translate(110.29,424.80) rotate(-90) scale(1,1.0)" font-size="14.6" fill="#808080" stroke="#808080" stroke-width="0.15" text-anchor="start">gute Lüftung</text>
<text transform="translate(167.69,424.80) rotate(-90) scale(1,1.0)" font-size="14.6" fill="#808080" stroke="#808080" stroke-width="0.15" text-anchor="start">mäßige Lüftung</text>
<text transform="translate(225.08,424.80) rotate(-90) scale(1,1.0)" font-size="14.6" fill="#808080" stroke="#808080" stroke-width="0.15" text-anchor="start">schlechte Lüftung</text>
</g>
<g clip-path="url(#cr)">
<rect x="450.75" y="39.15" width="402.0" height="396.40000000000003" fill="#008000"/>
<path d="M448.51 -179.66 L448.53 -177.75 L448.54 -175.84 L448.56 -173.92 L448.58 -172.01 L448.60 -170.10 L448.62 -168.19 L448.64 -166.28 L448.66 -164.36 L448.68 -162.45 L448.70 -160.54 L448.72 -158.63 L448.74 -156.72 L448.76 -154.81 L448.78 -152.89 L448.81 -150.98 L448.83 -149.07 L448.85 -147.16 L448.88 -145.25 L448.90 -143.33 L448.93 -141.42 L448.95 -139.51 L448.98 -137.60 L449.01 -135.69 L449.03 -133.77 L449.06 -131.86 L449.09 -129.95 L449.12 -128.04 L449.15 -126.13 L449.18 -124.22 L449.21 -122.30 L449.24 -120.39 L449.28 -118.48 L449.31 -116.57 L449.34 -114.66 L449.38 -112.74 L449.41 -110.83 L449.45 -108.92 L449.48 -107.01 L449.52 -105.10 L449.56 -103.18 L449.60 -101.27 L449.64 -99.36 L449.68 -97.45 L449.72 -95.54 L449.76 -93.62 L449.81 -91.71 L449.85 -89.80 L449.90 -87.89 L449.94 -85.98 L449.99 -84.07 L450.04 -82.15 L450.09 -80.24 L450.14 -78.33 L450.19 -76.42 L450.24 -74.51 L450.29 -72.59 L450.35 -70.68 L450.40 -68.77 L450.46 -66.86 L450.52 -64.95 L450.58 -63.03 L450.64 -61.12 L450.70 -59.21 L450.76 -57.30 L450.83 -55.39 L450.89 -53.48 L450.96 -51.56 L451.03 -49.65 L451.10 -47.74 L451.17 -45.83 L451.24 -43.92 L451.32 -42.00 L451.39 -40.09 L451.47 -38.18 L451.55 -36.27 L451.63 -34.36 L451.71 -32.44 L451.80 -30.53 L451.88 -28.62 L451.97 -26.71 L452.06 -24.80 L452.15 -22.89 L452.25 -20.97 L452.34 -19.06 L452.44 -17.15 L452.54 -15.24 L452.64 -13.33 L452.74 -11.41 L452.85 -9.50 L452.96 -7.59 L453.07 -5.68 L453.18 -3.77 L453.30 -1.85 L453.41 0.06 L453.53 1.97 L453.66 3.88 L453.78 5.79 L453.91 7.71 L454.04 9.62 L454.17 11.53 L454.31 13.44 L454.45 15.35 L454.59 17.26 L454.73 19.18 L454.88 21.09 L455.03 23.00 L455.18 24.91 L455.34 26.82 L455.50 28.74 L455.67 30.65 L455.83 32.56 L456.00 34.47 L456.18 36.38 L456.36 38.30 L456.54 40.21 L456.72 42.12 L456.91 44.03 L457.11 45.94 L457.30 47.85 L457.51 49.77 L457.71 51.68 L457.92 53.59 L458.14 55.50 L458.36 57.41 L458.58 59.33 L458.81 61.24 L459.04 63.15 L459.28 65.06 L459.52 66.97 L459.77 68.89 L460.03 70.80 L460.28 72.71 L460.55 74.62 L460.82 76.53 L461.09 78.44 L461.37 80.36 L461.66 82.27 L461.96 84.18 L462.25 86.09 L462.56 88.00 L462.87 89.92 L463.19 91.83 L463.52 93.74 L463.85 95.65 L464.19 97.56 L464.53 99.48 L464.89 101.39 L465.25 103.30 L465.62 105.21 L465.99 107.12 L466.38 109.04 L466.77 110.95 L467.17 112.86 L467.58 114.77 L468.00 116.68 L468.42 118.59 L468.86 120.51 L469.30 122.42 L469.75 124.33 L470.22 126.24 L470.69 128.15 L471.17 130.07 L471.67 131.98 L472.17 133.89 L472.68 135.80 L473.21 137.71 L473.74 139.63 L474.29 141.54 L474.85 143.45 L475.42 145.36 L476.00 147.27 L476.60 149.18 L477.20 151.10 L477.82 153.01 L478.45 154.92 L479.10 156.83 L479.76 158.74 L480.43 160.66 L481.12 162.57 L481.82 164.48 L482.54 166.39 L483.27 168.30 L484.02 170.22 L484.78 172.13 L485.56 174.04 L486.35 175.95 L487.16 177.86 L487.99 179.77 L488.84 181.69 L489.70 183.60 L490.58 185.51 L491.49 187.42 L492.40 189.33 L493.34 191.25 L494.30 193.16 L495.28 195.07 L496.28 196.98 L497.30 198.89 L498.34 200.81 L499.40 202.72 L500.49 204.63 L501.60 206.54 L502.73 208.45 L503.89 210.36 L505.07 212.28 L506.27 214.19 L507.50 216.10 L508.76 218.01 L510.04 219.92 L511.35 221.84 L512.68 223.75 L514.05 225.66 L515.44 227.57 L516.86 229.48 L518.32 231.40 L519.80 233.31 L521.31 235.22 L522.86 237.13 L524.44 239.04 L526.05 240.96 L527.69 242.87 L529.37 244.78 L531.09 246.69 L532.84 248.60 L534.63 250.51 L536.45 252.43 L538.32 254.34 L540.22 256.25 L542.16 258.16 L544.15 260.07 L546.17 261.99 L548.24 263.90 L550.35 265.81 L552.51 267.72 L554.71 269.63 L556.95 271.55 L559.25 273.46 L561.59 275.37 L563.98 277.28 L566.42 279.19 L568.92 281.10 L571.46 283.02 L574.06 284.93 L576.72 286.84 L579.42 288.75 L582.19 290.66 L585.01 292.58 L587.90 294.49 L590.84 296.40 L593.85 298.31 L596.92 300.22 L600.05 302.14 L603.25 304.05 L606.52 305.96 L609.85 307.87 L613.26 309.78 L616.73 311.69 L620.28 313.61 L623.91 315.52 L627.61 317.43 L631.38 319.34 L635.24 321.25 L639.18 323.17 L643.20 325.08 L647.31 326.99 L651.50 328.90 L655.78 330.81 L660.15 332.73 L664.61 334.64 L669.16 336.55 L673.81 338.46 L678.56 340.37 L683.41 342.29 L688.36 344.20 L693.41 346.11 L698.57 348.02 L703.84 349.93 L709.22 351.84 L714.71 353.76 L720.32 355.67 L726.04 357.58 L731.88 359.49 L737.85 361.40 L743.95 363.32 L750.17 365.23 L756.52 367.14 L763.00 369.05 L769.62 370.96 L776.38 372.88 L783.29 374.79 L790.33 376.70 L797.53 378.61 L804.87 380.52 L812.37 382.43 L820.03 384.35 L827.85 386.26 L835.83 388.17 L843.98 390.08 L852.30 391.99 L860.80 393.91 L857.75 -10.850000000000001 L448.51 -10.850000000000001 Z" fill="#ffff00"/>
<path d="M448.51 -243.43 L448.53 -241.52 L448.54 -239.61 L448.56 -237.69 L448.58 -235.78 L448.60 -233.87 L448.62 -231.96 L448.64 -230.05 L448.66 -228.13 L448.68 -226.22 L448.70 -224.31 L448.72 -222.40 L448.74 -220.49 L448.76 -218.57 L448.78 -216.66 L448.81 -214.75 L448.83 -212.84 L448.85 -210.93 L448.88 -209.02 L448.90 -207.10 L448.93 -205.19 L448.95 -203.28 L448.98 -201.37 L449.01 -199.46 L449.03 -197.54 L449.06 -195.63 L449.09 -193.72 L449.12 -191.81 L449.15 -189.90 L449.18 -187.98 L449.21 -186.07 L449.24 -184.16 L449.28 -182.25 L449.31 -180.34 L449.34 -178.43 L449.38 -176.51 L449.41 -174.60 L449.45 -172.69 L449.48 -170.78 L449.52 -168.87 L449.56 -166.95 L449.60 -165.04 L449.64 -163.13 L449.68 -161.22 L449.72 -159.31 L449.76 -157.39 L449.81 -155.48 L449.85 -153.57 L449.90 -151.66 L449.94 -149.75 L449.99 -147.84 L450.04 -145.92 L450.09 -144.01 L450.14 -142.10 L450.19 -140.19 L450.24 -138.28 L450.29 -136.36 L450.35 -134.45 L450.40 -132.54 L450.46 -130.63 L450.52 -128.72 L450.58 -126.80 L450.64 -124.89 L450.70 -122.98 L450.76 -121.07 L450.83 -119.16 L450.89 -117.24 L450.96 -115.33 L451.03 -113.42 L451.10 -111.51 L451.17 -109.60 L451.24 -107.69 L451.32 -105.77 L451.39 -103.86 L451.47 -101.95 L451.55 -100.04 L451.63 -98.13 L451.71 -96.21 L451.80 -94.30 L451.88 -92.39 L451.97 -90.48 L452.06 -88.57 L452.15 -86.65 L452.25 -84.74 L452.34 -82.83 L452.44 -80.92 L452.54 -79.01 L452.64 -77.10 L452.74 -75.18 L452.85 -73.27 L452.96 -71.36 L453.07 -69.45 L453.18 -67.54 L453.30 -65.62 L453.41 -63.71 L453.53 -61.80 L453.66 -59.89 L453.78 -57.98 L453.91 -56.06 L454.04 -54.15 L454.17 -52.24 L454.31 -50.33 L454.45 -48.42 L454.59 -46.51 L454.73 -44.59 L454.88 -42.68 L455.03 -40.77 L455.18 -38.86 L455.34 -36.95 L455.50 -35.03 L455.67 -33.12 L455.83 -31.21 L456.00 -29.30 L456.18 -27.39 L456.36 -25.47 L456.54 -23.56 L456.72 -21.65 L456.91 -19.74 L457.11 -17.83 L457.30 -15.91 L457.51 -14.00 L457.71 -12.09 L457.92 -10.18 L458.14 -8.27 L458.36 -6.36 L458.58 -4.44 L458.81 -2.53 L459.04 -0.62 L459.28 1.29 L459.52 3.20 L459.77 5.12 L460.03 7.03 L460.28 8.94 L460.55 10.85 L460.82 12.76 L461.09 14.68 L461.37 16.59 L461.66 18.50 L461.96 20.41 L462.25 22.32 L462.56 24.23 L462.87 26.15 L463.19 28.06 L463.52 29.97 L463.85 31.88 L464.19 33.79 L464.53 35.71 L464.89 37.62 L465.25 39.53 L465.62 41.44 L465.99 43.35 L466.38 45.27 L466.77 47.18 L467.17 49.09 L467.58 51.00 L468.00 52.91 L468.42 54.82 L468.86 56.74 L469.30 58.65 L469.75 60.56 L470.22 62.47 L470.69 64.38 L471.17 66.30 L471.67 68.21 L472.17 70.12 L472.68 72.03 L473.21 73.94 L473.74 75.86 L474.29 77.77 L474.85 79.68 L475.42 81.59 L476.00 83.50 L476.60 85.42 L477.20 87.33 L477.82 89.24 L478.45 91.15 L479.10 93.06 L479.76 94.97 L480.43 96.89 L481.12 98.80 L481.82 100.71 L482.54 102.62 L483.27 104.53 L484.02 106.45 L484.78 108.36 L485.56 110.27 L486.35 112.18 L487.16 114.09 L487.99 116.01 L488.84 117.92 L489.70 119.83 L490.58 121.74 L491.49 123.65 L492.40 125.56 L493.34 127.48 L494.30 129.39 L495.28 131.30 L496.28 133.21 L497.30 135.12 L498.34 137.04 L499.40 138.95 L500.49 140.86 L501.60 142.77 L502.73 144.68 L503.89 146.60 L505.07 148.51 L506.27 150.42 L507.50 152.33 L508.76 154.24 L510.04 156.15 L511.35 158.07 L512.68 159.98 L514.05 161.89 L515.44 163.80 L516.86 165.71 L518.32 167.63 L519.80 169.54 L521.31 171.45 L522.86 173.36 L524.44 175.27 L526.05 177.19 L527.69 179.10 L529.37 181.01 L531.09 182.92 L532.84 184.83 L534.63 186.75 L536.45 188.66 L538.32 190.57 L540.22 192.48 L542.16 194.39 L544.15 196.30 L546.17 198.22 L548.24 200.13 L550.35 202.04 L552.51 203.95 L554.71 205.86 L556.95 207.78 L559.25 209.69 L561.59 211.60 L563.98 213.51 L566.42 215.42 L568.92 217.34 L571.46 219.25 L574.06 221.16 L576.72 223.07 L579.42 224.98 L582.19 226.89 L585.01 228.81 L587.90 230.72 L590.84 232.63 L593.85 234.54 L596.92 236.45 L600.05 238.37 L603.25 240.28 L606.52 242.19 L609.85 244.10 L613.26 246.01 L616.73 247.93 L620.28 249.84 L623.91 251.75 L627.61 253.66 L631.38 255.57 L635.24 257.48 L639.18 259.40 L643.20 261.31 L647.31 263.22 L651.50 265.13 L655.78 267.04 L660.15 268.96 L664.61 270.87 L669.16 272.78 L673.81 274.69 L678.56 276.60 L683.41 278.52 L688.36 280.43 L693.41 282.34 L698.57 284.25 L703.84 286.16 L709.22 288.07 L714.71 289.99 L720.32 291.90 L726.04 293.81 L731.88 295.72 L737.85 297.63 L743.95 299.55 L750.17 301.46 L756.52 303.37 L763.00 305.28 L769.62 307.19 L776.38 309.11 L783.29 311.02 L790.33 312.93 L797.53 314.84 L804.87 316.75 L812.37 318.67 L820.03 320.58 L827.85 322.49 L835.83 324.40 L843.98 326.31 L852.30 328.22 L860.80 330.14 L857.75 -10.850000000000001 L448.51 -10.850000000000001 Z" fill="#ffa500"/>
<path d="M448.51 -280.95 L448.53 -279.03 L448.54 -277.12 L448.56 -275.21 L448.58 -273.30 L448.60 -271.39 L448.62 -269.48 L448.64 -267.56 L448.66 -265.65 L448.68 -263.74 L448.70 -261.83 L448.72 -259.92 L448.74 -258.00 L448.76 -256.09 L448.78 -254.18 L448.81 -252.27 L448.83 -250.36 L448.85 -248.44 L448.88 -246.53 L448.90 -244.62 L448.93 -242.71 L448.95 -240.80 L448.98 -238.89 L449.01 -236.97 L449.03 -235.06 L449.06 -233.15 L449.09 -231.24 L449.12 -229.33 L449.15 -227.41 L449.18 -225.50 L449.21 -223.59 L449.24 -221.68 L449.28 -219.77 L449.31 -217.85 L449.34 -215.94 L449.38 -214.03 L449.41 -212.12 L449.45 -210.21 L449.48 -208.29 L449.52 -206.38 L449.56 -204.47 L449.60 -202.56 L449.64 -200.65 L449.68 -198.74 L449.72 -196.82 L449.76 -194.91 L449.81 -193.00 L449.85 -191.09 L449.90 -189.18 L449.94 -187.26 L449.99 -185.35 L450.04 -183.44 L450.09 -181.53 L450.14 -179.62 L450.19 -177.70 L450.24 -175.79 L450.29 -173.88 L450.35 -171.97 L450.40 -170.06 L450.46 -168.15 L450.52 -166.23 L450.58 -164.32 L450.64 -162.41 L450.70 -160.50 L450.76 -158.59 L450.83 -156.67 L450.89 -154.76 L450.96 -152.85 L451.03 -150.94 L451.10 -149.03 L451.17 -147.11 L451.24 -145.20 L451.32 -143.29 L451.39 -141.38 L451.47 -139.47 L451.55 -137.56 L451.63 -135.64 L451.71 -133.73 L451.80 -131.82 L451.88 -129.91 L451.97 -128.00 L452.06 -126.08 L452.15 -124.17 L452.25 -122.26 L452.34 -120.35 L452.44 -118.44 L452.54 -116.52 L452.64 -114.61 L452.74 -112.70 L452.85 -110.79 L452.96 -108.88 L453.07 -106.96 L453.18 -105.05 L453.30 -103.14 L453.41 -101.23 L453.53 -99.32 L453.66 -97.41 L453.78 -95.49 L453.91 -93.58 L454.04 -91.67 L454.17 -89.76 L454.31 -87.85 L454.45 -85.93 L454.59 -84.02 L454.73 -82.11 L454.88 -80.20 L455.03 -78.29 L455.18 -76.37 L455.34 -74.46 L455.50 -72.55 L455.67 -70.64 L455.83 -68.73 L456.00 -66.82 L456.18 -64.90 L456.36 -62.99 L456.54 -61.08 L456.72 -59.17 L456.91 -57.26 L457.11 -55.34 L457.30 -53.43 L457.51 -51.52 L457.71 -49.61 L457.92 -47.70 L458.14 -45.78 L458.36 -43.87 L458.58 -41.96 L458.81 -40.05 L459.04 -38.14 L459.28 -36.23 L459.52 -34.31 L459.77 -32.40 L460.03 -30.49 L460.28 -28.58 L460.55 -26.67 L460.82 -24.75 L461.09 -22.84 L461.37 -20.93 L461.66 -19.02 L461.96 -17.11 L462.25 -15.19 L462.56 -13.28 L462.87 -11.37 L463.19 -9.46 L463.52 -7.55 L463.85 -5.63 L464.19 -3.72 L464.53 -1.81 L464.89 0.10 L465.25 2.01 L465.62 3.92 L465.99 5.84 L466.38 7.75 L466.77 9.66 L467.17 11.57 L467.58 13.48 L468.00 15.40 L468.42 17.31 L468.86 19.22 L469.30 21.13 L469.75 23.04 L470.22 24.96 L470.69 26.87 L471.17 28.78 L471.67 30.69 L472.17 32.60 L472.68 34.51 L473.21 36.43 L473.74 38.34 L474.29 40.25 L474.85 42.16 L475.42 44.07 L476.00 45.99 L476.60 47.90 L477.20 49.81 L477.82 51.72 L478.45 53.63 L479.10 55.55 L479.76 57.46 L480.43 59.37 L481.12 61.28 L481.82 63.19 L482.54 65.10 L483.27 67.02 L484.02 68.93 L484.78 70.84 L485.56 72.75 L486.35 74.66 L487.16 76.58 L487.99 78.49 L488.84 80.40 L489.70 82.31 L490.58 84.22 L491.49 86.14 L492.40 88.05 L493.34 89.96 L494.30 91.87 L495.28 93.78 L496.28 95.70 L497.30 97.61 L498.34 99.52 L499.40 101.43 L500.49 103.34 L501.60 105.25 L502.73 107.17 L503.89 109.08 L505.07 110.99 L506.27 112.90 L507.50 114.81 L508.76 116.73 L510.04 118.64 L511.35 120.55 L512.68 122.46 L514.05 124.37 L515.44 126.29 L516.86 128.20 L518.32 130.11 L519.80 132.02 L521.31 133.93 L522.86 135.84 L524.44 137.76 L526.05 139.67 L527.69 141.58 L529.37 143.49 L531.09 145.40 L532.84 147.32 L534.63 149.23 L536.45 151.14 L538.32 153.05 L540.22 154.96 L542.16 156.88 L544.15 158.79 L546.17 160.70 L548.24 162.61 L550.35 164.52 L552.51 166.43 L554.71 168.35 L556.95 170.26 L559.25 172.17 L561.59 174.08 L563.98 175.99 L566.42 177.91 L568.92 179.82 L571.46 181.73 L574.06 183.64 L576.72 185.55 L579.42 187.47 L582.19 189.38 L585.01 191.29 L587.90 193.20 L590.84 195.11 L593.85 197.02 L596.92 198.94 L600.05 200.85 L603.25 202.76 L606.52 204.67 L609.85 206.58 L613.26 208.50 L616.73 210.41 L620.28 212.32 L623.91 214.23 L627.61 216.14 L631.38 218.06 L635.24 219.97 L639.18 221.88 L643.20 223.79 L647.31 225.70 L651.50 227.62 L655.78 229.53 L660.15 231.44 L664.61 233.35 L669.16 235.26 L673.81 237.17 L678.56 239.09 L683.41 241.00 L688.36 242.91 L693.41 244.82 L698.57 246.73 L703.84 248.65 L709.22 250.56 L714.71 252.47 L720.32 254.38 L726.04 256.29 L731.88 258.21 L737.85 260.12 L743.95 262.03 L750.17 263.94 L756.52 265.85 L763.00 267.76 L769.62 269.68 L776.38 271.59 L783.29 273.50 L790.33 275.41 L797.53 277.32 L804.87 279.24 L812.37 281.15 L820.03 283.06 L827.85 284.97 L835.83 286.88 L843.98 288.80 L852.30 290.71 L860.80 292.62 L857.75 -10.850000000000001 L448.51 -10.850000000000001 Z" fill="#ff0000"/>
<line x1="450.75" y1="114" x2="852.75" y2="114" stroke="#000" stroke-width="3.0"/>
<line x1="450.75" y1="138.5" x2="852.75" y2="138.5" stroke="#000" stroke-width="3.0"/>
<line x1="450.75" y1="158.5" x2="852.75" y2="158.5" stroke="#000" stroke-width="3.0"/>
<line x1="450.75" y1="185.5" x2="852.75" y2="185.5" stroke="#000" stroke-width="3.0"/>
<line x1="450.75" y1="202.1" x2="852.75" y2="202.1" stroke="#000" stroke-width="3.0"/>
<line x1="450.75" y1="222.75" x2="852.75" y2="222.75" stroke="#000" stroke-width="3.0"/>
<line x1="450.75" y1="235.1" x2="852.75" y2="235.1" stroke="#000" stroke-width="3.0"/>
<line x1="450.75" y1="249.25" x2="852.75" y2="249.25" stroke="#000" stroke-width="3.0"/>
<line x1="450.75" y1="266.1" x2="852.75" y2="266.1" stroke="#000" stroke-width="3.0"/>
<line x1="450.75" y1="286.75" x2="852.75" y2="286.75" stroke="#000" stroke-width="3.0"/>
<line x1="450.75" y1="307.1" x2="852.75" y2="307.1" stroke="#000" stroke-width="3.0"/>
<line x1="450.75" y1="342.1" x2="852.75" y2="342.1" stroke="#000" stroke-width="3.0"/>
<line x1="450.75" y1="371.2" x2="852.75" y2="371.2" stroke="#000" stroke-width="3.0"/>
<line x1="450.75" y1="414.6" x2="852.75" y2="414.6" stroke="#000" stroke-width="3.0"/>
</g>
<rect x="49.0" y="39.15" width="401.75" height="396.40000000000003" fill="none" stroke="#000" stroke-width="1.4"/>
<rect x="450.75" y="39.15" width="402.0" height="396.40000000000003" fill="none" stroke="#000" stroke-width="1.4"/>
<line x1="450.75" y1="39.15" x2="450.75" y2="435.55" stroke="#000" stroke-width="2"/>
<line x1="49.50" y1="220.00" x2="138.60" y2="220.00" stroke="#ff2600" stroke-width="2.9"/><polygon points="152.40,220.00 136.60,227.30 136.60,212.70" fill="#ff2600"/>
<line x1="155.50" y1="436.70" x2="154.28" y2="231.30" stroke="#ff2600" stroke-width="3.1"/><polygon points="154.20,218.50 161.59,233.26 146.99,233.34" fill="#ff2600"/>
<path d="M154.20 221.56 L155.37 222.51 L156.56 223.46 L157.76 224.41 L158.97 225.36 L160.20 226.31 L161.44 227.26 L162.69 228.21 L163.95 229.16 L165.23 230.11 L166.52 231.06 L167.83 232.01 L169.15 232.96 L170.48 233.91 L171.83 234.86 L173.19 235.81 L174.57 236.75 L175.96 237.70 L177.37 238.65 L178.79 239.60 L180.23 240.55 L181.68 241.49 L183.14 242.44 L184.63 243.39 L186.13 244.33 L187.64 245.28 L189.17 246.23 L190.72 247.17 L192.28 248.12 L193.86 249.07 L195.46 250.01 L197.07 250.96 L198.70 251.91 L200.35 252.85 L202.01 253.80 L203.70 254.74 L205.40 255.69 L207.12 256.64 L208.86 257.58 L210.61 258.53 L212.39 259.47 L214.18 260.42 L216.00 261.37 L217.83 262.31 L219.68 263.26 L221.55 264.21 L223.44 265.15 L225.35 266.10 L227.29 267.05 L229.24 267.99 L231.21 268.94 L233.20 269.89 L235.22 270.84 L237.26 271.79 L239.32 272.74 L241.40 273.69 L243.50 274.64 L245.62 275.59 L247.77 276.54 L249.94 277.49 L252.14 278.44 L254.35 279.40 L256.59 280.35 L258.86 281.30 L261.15 282.26 L263.46 283.21 L265.80 284.17 L268.16 285.13 L270.55 286.09 L272.96 287.05 L275.40 288.01 L277.86 288.97 L280.35 289.93 L282.87 290.89 L285.41 291.86 L287.98 292.82 L290.58 293.79 L293.21 294.76 L295.86 295.73 L298.54 296.70 L301.26 297.67 L303.99 298.65 L306.76 299.62 L309.56 300.60 L312.39 301.58 L315.25 302.56 L318.14 303.54 L321.06 304.53 L324.01 305.51 L326.99 306.50 L330.00 307.49 L333.05 308.48 L336.13 309.48 L339.24 310.47 L342.38 311.47 L345.56 312.47 L348.77 313.47 L352.01 314.48 L355.29 315.48 L358.61 316.49 L361.96 317.50 L365.34 318.52 L368.77 319.53 L372.22 320.55 L375.72 321.57 L379.25 322.59 L382.82 323.62 L386.43 324.64 L390.07 325.67 L393.76 326.70 L397.48 327.74 L401.25 328.77 L405.05 329.81 L408.90 330.85 L412.78 331.89 L416.71 332.94 L420.68 333.98 L424.69 335.03 L428.74 336.08 L432.84 337.13 L436.98 338.18" fill="none" stroke="#ff2600" stroke-width="3.2"/>
<line x1="435.83" y1="337.89" x2="437.42" y2="338.30" stroke="#ff2600" stroke-width="3.2"/><polygon points="450.20,341.61 433.66,344.87 437.31,330.73" fill="#ff2600"/>
<line x1="449.95" y1="342.10" x2="676.00" y2="342.10" stroke="#ff2600" stroke-width="3.0"/><polygon points="688.80,342.10 674.00,349.40 674.00,334.80" fill="#ff2600"/>
<line x1="690.90" y1="438.20" x2="691.68" y2="355.00" stroke="#ff2600" stroke-width="3.1"/><polygon points="691.80,342.30 698.96,357.07 684.36,356.93" fill="#ff2600"/>
<line x1="49.00" y1="435.55" x2="49.00" y2="441.15000000000003" stroke="#000" stroke-width="1.3"/>
<text transform="translate(49.00,457.30) scale(1,1.0)" font-size="14.6" fill="#000" stroke="#000" stroke-width="0.15" text-anchor="middle">500</text>
<line x1="106.39" y1="435.55" x2="106.39" y2="441.15000000000003" stroke="#000" stroke-width="1.3"/>
<text transform="translate(106.39,457.30) scale(1,1.0)" font-size="14.6" fill="#000" stroke="#000" stroke-width="0.15" text-anchor="middle">1000</text>
<line x1="163.79" y1="435.55" x2="163.79" y2="441.15000000000003" stroke="#000" stroke-width="1.3"/>
<text transform="translate(163.79,457.30) scale(1,1.0)" font-size="14.6" fill="#000" stroke="#000" stroke-width="0.15" text-anchor="middle">1500</text>
<line x1="221.18" y1="435.55" x2="221.18" y2="441.15000000000003" stroke="#000" stroke-width="1.3"/>
<text transform="translate(221.18,457.30) scale(1,1.0)" font-size="14.6" fill="#000" stroke="#000" stroke-width="0.15" text-anchor="middle">2000</text>
<line x1="278.57" y1="435.55" x2="278.57" y2="441.15000000000003" stroke="#000" stroke-width="1.3"/>
<text transform="translate(278.57,457.30) scale(1,1.0)" font-size="14.6" fill="#000" stroke="#000" stroke-width="0.15" text-anchor="middle">2500</text>
<line x1="335.96" y1="435.55" x2="335.96" y2="441.15000000000003" stroke="#000" stroke-width="1.3"/>
<text transform="translate(335.96,457.30) scale(1,1.0)" font-size="14.6" fill="#000" stroke="#000" stroke-width="0.15" text-anchor="middle">3000</text>
<line x1="393.36" y1="435.55" x2="393.36" y2="441.15000000000003" stroke="#000" stroke-width="1.3"/>
<text transform="translate(393.36,457.30) scale(1,1.0)" font-size="14.6" fill="#000" stroke="#000" stroke-width="0.15" text-anchor="middle">3500</text>
<line x1="450.75" y1="435.55" x2="450.75" y2="441.15000000000003" stroke="#000" stroke-width="1.3"/>
<line x1="488.20" y1="435.55" x2="488.20" y2="441.15000000000003" stroke="#000" stroke-width="1.3"/>
<text transform="translate(488.20,457.30) scale(1,1.0)" font-size="14.6" fill="#000" stroke="#000" stroke-width="0.15" text-anchor="middle">1</text>
<line x1="528.70" y1="435.55" x2="528.70" y2="441.15000000000003" stroke="#000" stroke-width="1.3"/>
<text transform="translate(528.70,457.30) scale(1,1.0)" font-size="14.6" fill="#000" stroke="#000" stroke-width="0.15" text-anchor="middle">2</text>
<line x1="609.70" y1="435.55" x2="609.70" y2="441.15000000000003" stroke="#000" stroke-width="1.3"/>
<text transform="translate(609.70,457.30) scale(1,1.0)" font-size="14.6" fill="#000" stroke="#000" stroke-width="0.15" text-anchor="middle">4</text>
<line x1="690.70" y1="435.55" x2="690.70" y2="441.15000000000003" stroke="#000" stroke-width="1.3"/>
<text transform="translate(690.70,457.30) scale(1,1.0)" font-size="14.6" fill="#000" stroke="#000" stroke-width="0.15" text-anchor="middle">6</text>
<line x1="771.70" y1="435.55" x2="771.70" y2="441.15000000000003" stroke="#000" stroke-width="1.3"/>
<text transform="translate(771.70,457.30) scale(1,1.0)" font-size="14.6" fill="#000" stroke="#000" stroke-width="0.15" text-anchor="middle">8</text>
<text x="250.2" y="481.0" font-size="18.25" text-anchor="middle"><tspan font-style="italic">CO</tspan><tspan font-size="12.77" dy="3.2">2</tspan><tspan dy="-3.2">-Konzentration in ppm</tspan></text>
<text x="651.7" y="481.0" font-size="18.25" text-anchor="middle">Aufenhaltszeit in Stunden</text>
<text x="187.0" y="23.5" font-size="18.25">mittlere Virenemissionsrate (Viruslast &amp; Partikelproduktion)</text>
<rect x="48.9" y="488.1" width="178.7" height="44.2" fill="#008000"/>
<text x="66.8" y="515.7" font-size="18.25">geringes Risiko</text>
<rect x="250.0" y="488.1" width="178.7" height="44.2" fill="#ffff00"/>
<text x="267.8" y="515.7" font-size="18.25">mittlere Risiko</text>
<rect x="450.5" y="488.1" width="178.7" height="44.2" fill="#ffa500"/>
<text x="468.9" y="515.7" font-size="18.25">erhöhtes Risiko</text>
<rect x="651.7" y="488.1" width="178.7" height="44.2" fill="#ff0000"/>
<text x="669.4" y="515.7" font-size="18.25">hohes Risiko</text>
<path d="M24.7 80H29.099999999999998M26.9 80V158.4M24.7 158.4H29.099999999999998" fill="none" stroke="#ff7f0e" stroke-width="1.5"/>
<path d="M42.599999999999994 111H47.0M44.8 111V323.7M42.599999999999994 323.7H47.0" fill="none" stroke="#1f77b4" stroke-width="1.5"/>
<text transform="translate(22.80,117.90) rotate(-90) scale(1,1.0)" font-size="14.6" fill="#ff7f0e" stroke="#ff7f0e" stroke-width="0.15" text-anchor="middle">OP-Maske</text>
<text transform="translate(43.30,242.40) rotate(-90) scale(1,1.0)" font-size="14.6" fill="#1f77b4" stroke="#1f77b4" stroke-width="0.15" text-anchor="middle">FFP2-Maske</text>
<path d="M0.4 0H872V546H0.4Z M3.1 3V542.9H869V3Z" fill="#1f77b4" fill-rule="evenodd"/>
</svg>
</body></html>
